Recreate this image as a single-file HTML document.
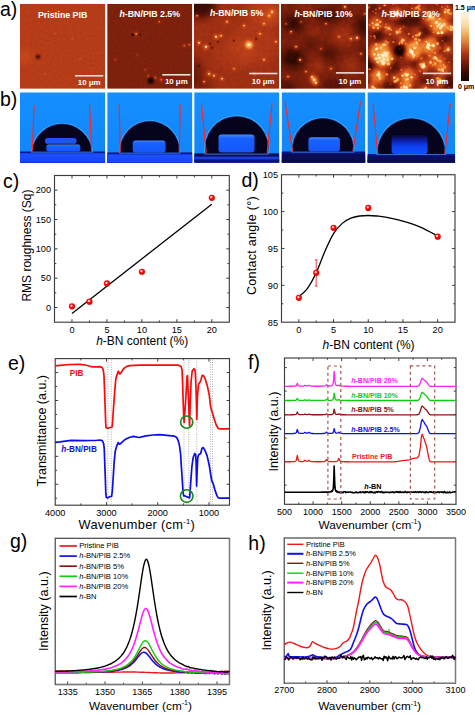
<!DOCTYPE html><html><head><meta charset="utf-8"><style>html,body{margin:0;padding:0;background:#fff;}svg{display:block;}text{font-family:"Liberation Sans", sans-serif;}</style></head><body>
<svg width="475" height="715" viewBox="0 0 475 715">
<rect width="475" height="715" fill="#fff"/>
<defs>
<filter id="afm1" x="0" y="0" width="100%" height="100%" color-interpolation-filters="sRGB">
<feTurbulence type="fractalNoise" baseFrequency="0.4" numOctaves="3" seed="11" result="n"/>
<feColorMatrix in="n" type="matrix" values="1 0 0 0 0 1 0 0 0 0 1 0 0 0 0 0 0 0 0 1" result="ng"/>
<feGaussianBlur in="SourceGraphic" stdDeviation="0.5" result="sg"/>
<feComposite in="sg" in2="ng" operator="arithmetic" k1="0" k2="1" k3="0.05" k4="-0.025" result="h"/>
<feComponentTransfer in="h"><feFuncR type="table" tableValues="0.059 0.089 0.120 0.151 0.188 0.227 0.267 0.309 0.353 0.397 0.442 0.487 0.532 0.577 0.617 0.658 0.698 0.740 0.781 0.823 0.855 0.884 0.914 0.933 0.945 0.957 0.967 0.972 0.976 0.981 0.985 0.988 0.992"/><feFuncG type="table" tableValues="0.012 0.018 0.024 0.030 0.039 0.049 0.059 0.071 0.084 0.098 0.112 0.128 0.144 0.161 0.183 0.205 0.227 0.257 0.286 0.316 0.367 0.423 0.479 0.539 0.600 0.661 0.716 0.762 0.807 0.850 0.884 0.919 0.953"/><feFuncB type="table" tableValues="0.012 0.013 0.014 0.015 0.018 0.020 0.023 0.026 0.031 0.036 0.042 0.048 0.054 0.061 0.072 0.083 0.094 0.099 0.104 0.109 0.126 0.147 0.168 0.208 0.261 0.313 0.375 0.451 0.527 0.607 0.699 0.790 0.882"/></feComponentTransfer>
</filter>
<filter id="afm2" x="0" y="0" width="100%" height="100%" color-interpolation-filters="sRGB">
<feTurbulence type="fractalNoise" baseFrequency="0.4" numOctaves="3" seed="22" result="n"/>
<feColorMatrix in="n" type="matrix" values="1 0 0 0 0 1 0 0 0 0 1 0 0 0 0 0 0 0 0 1" result="ng"/>
<feGaussianBlur in="SourceGraphic" stdDeviation="0.5" result="sg"/>
<feComposite in="sg" in2="ng" operator="arithmetic" k1="0" k2="1" k3="0.05" k4="-0.025" result="h"/>
<feComponentTransfer in="h"><feFuncR type="table" tableValues="0.059 0.089 0.120 0.151 0.188 0.227 0.267 0.309 0.353 0.397 0.442 0.487 0.532 0.577 0.617 0.658 0.698 0.740 0.781 0.823 0.855 0.884 0.914 0.933 0.945 0.957 0.967 0.972 0.976 0.981 0.985 0.988 0.992"/><feFuncG type="table" tableValues="0.012 0.018 0.024 0.030 0.039 0.049 0.059 0.071 0.084 0.098 0.112 0.128 0.144 0.161 0.183 0.205 0.227 0.257 0.286 0.316 0.367 0.423 0.479 0.539 0.600 0.661 0.716 0.762 0.807 0.850 0.884 0.919 0.953"/><feFuncB type="table" tableValues="0.012 0.013 0.014 0.015 0.018 0.020 0.023 0.026 0.031 0.036 0.042 0.048 0.054 0.061 0.072 0.083 0.094 0.099 0.104 0.109 0.126 0.147 0.168 0.208 0.261 0.313 0.375 0.451 0.527 0.607 0.699 0.790 0.882"/></feComponentTransfer>
</filter>
<filter id="afm3" x="0" y="0" width="100%" height="100%" color-interpolation-filters="sRGB">
<feTurbulence type="fractalNoise" baseFrequency="0.3" numOctaves="3" seed="33" result="n"/>
<feColorMatrix in="n" type="matrix" values="1 0 0 0 0 1 0 0 0 0 1 0 0 0 0 0 0 0 0 1" result="ng"/>
<feGaussianBlur in="SourceGraphic" stdDeviation="0.5" result="sg"/>
<feComposite in="sg" in2="ng" operator="arithmetic" k1="0" k2="1" k3="0.06" k4="-0.03" result="h"/>
<feComponentTransfer in="h"><feFuncR type="table" tableValues="0.059 0.089 0.120 0.151 0.188 0.227 0.267 0.309 0.353 0.397 0.442 0.487 0.532 0.577 0.617 0.658 0.698 0.740 0.781 0.823 0.855 0.884 0.914 0.933 0.945 0.957 0.967 0.972 0.976 0.981 0.985 0.988 0.992"/><feFuncG type="table" tableValues="0.012 0.018 0.024 0.030 0.039 0.049 0.059 0.071 0.084 0.098 0.112 0.128 0.144 0.161 0.183 0.205 0.227 0.257 0.286 0.316 0.367 0.423 0.479 0.539 0.600 0.661 0.716 0.762 0.807 0.850 0.884 0.919 0.953"/><feFuncB type="table" tableValues="0.012 0.013 0.014 0.015 0.018 0.020 0.023 0.026 0.031 0.036 0.042 0.048 0.054 0.061 0.072 0.083 0.094 0.099 0.104 0.109 0.126 0.147 0.168 0.208 0.261 0.313 0.375 0.451 0.527 0.607 0.699 0.790 0.882"/></feComponentTransfer>
</filter>
<filter id="afm4" x="0" y="0" width="100%" height="100%" color-interpolation-filters="sRGB">
<feTurbulence type="fractalNoise" baseFrequency="0.25" numOctaves="3" seed="44" result="n"/>
<feColorMatrix in="n" type="matrix" values="1 0 0 0 0 1 0 0 0 0 1 0 0 0 0 0 0 0 0 1" result="ng"/>
<feGaussianBlur in="SourceGraphic" stdDeviation="0.5" result="sg"/>
<feComposite in="sg" in2="ng" operator="arithmetic" k1="0" k2="1" k3="0.08" k4="-0.04" result="h"/>
<feComponentTransfer in="h"><feFuncR type="table" tableValues="0.059 0.089 0.120 0.151 0.188 0.227 0.267 0.309 0.353 0.397 0.442 0.487 0.532 0.577 0.617 0.658 0.698 0.740 0.781 0.823 0.855 0.884 0.914 0.933 0.945 0.957 0.967 0.972 0.976 0.981 0.985 0.988 0.992"/><feFuncG type="table" tableValues="0.012 0.018 0.024 0.030 0.039 0.049 0.059 0.071 0.084 0.098 0.112 0.128 0.144 0.161 0.183 0.205 0.227 0.257 0.286 0.316 0.367 0.423 0.479 0.539 0.600 0.661 0.716 0.762 0.807 0.850 0.884 0.919 0.953"/><feFuncB type="table" tableValues="0.012 0.013 0.014 0.015 0.018 0.020 0.023 0.026 0.031 0.036 0.042 0.048 0.054 0.061 0.072 0.083 0.094 0.099 0.104 0.109 0.126 0.147 0.168 0.208 0.261 0.313 0.375 0.451 0.527 0.607 0.699 0.790 0.882"/></feComponentTransfer>
</filter>
<filter id="afm5" x="0" y="0" width="100%" height="100%" color-interpolation-filters="sRGB">
<feTurbulence type="fractalNoise" baseFrequency="0.25" numOctaves="3" seed="55" result="n"/>
<feColorMatrix in="n" type="matrix" values="1 0 0 0 0 1 0 0 0 0 1 0 0 0 0 0 0 0 0 1" result="ng"/>
<feGaussianBlur in="SourceGraphic" stdDeviation="0.5" result="sg"/>
<feComposite in="sg" in2="ng" operator="arithmetic" k1="0" k2="1" k3="0.12" k4="-0.06" result="h"/>
<feComponentTransfer in="h"><feFuncR type="table" tableValues="0.059 0.089 0.120 0.151 0.188 0.227 0.267 0.309 0.353 0.397 0.442 0.487 0.532 0.577 0.617 0.658 0.698 0.740 0.781 0.823 0.855 0.884 0.914 0.933 0.945 0.957 0.967 0.972 0.976 0.981 0.985 0.988 0.992"/><feFuncG type="table" tableValues="0.012 0.018 0.024 0.030 0.039 0.049 0.059 0.071 0.084 0.098 0.112 0.128 0.144 0.161 0.183 0.205 0.227 0.257 0.286 0.316 0.367 0.423 0.479 0.539 0.600 0.661 0.716 0.762 0.807 0.850 0.884 0.919 0.953"/><feFuncB type="table" tableValues="0.012 0.013 0.014 0.015 0.018 0.020 0.023 0.026 0.031 0.036 0.042 0.048 0.054 0.061 0.072 0.083 0.094 0.099 0.104 0.109 0.126 0.147 0.168 0.208 0.261 0.313 0.375 0.451 0.527 0.607 0.699 0.790 0.882"/></feComponentTransfer>
</filter>
<filter id="bl1" x="-50%" y="-50%" width="200%" height="200%"><feGaussianBlur stdDeviation="1"/></filter>
<filter id="bl2" x="-50%" y="-50%" width="200%" height="200%"><feGaussianBlur stdDeviation="2"/></filter>
<filter id="bl4" x="-50%" y="-50%" width="200%" height="200%"><feGaussianBlur stdDeviation="4"/></filter>
<filter id="bl05" x="-100%" y="-100%" width="300%" height="300%"><feGaussianBlur stdDeviation="0.5"/></filter>
<filter id="bl07" x="-10%" y="-10%" width="120%" height="120%"><feGaussianBlur stdDeviation="0.7"/></filter>
<linearGradient id="cbar" x1="0" y1="0" x2="0" y2="1"><stop offset="0.00" stop-color="rgb(253,242,220)"/><stop offset="0.10" stop-color="rgb(252,235,200)"/><stop offset="0.20" stop-color="rgb(248,215,160)"/><stop offset="0.30" stop-color="rgb(240,182,105)"/><stop offset="0.40" stop-color="rgb(226,142,66)"/><stop offset="0.50" stop-color="rgb(202,96,40)"/><stop offset="0.60" stop-color="rgb(172,56,22)"/><stop offset="0.70" stop-color="rgb(132,35,12)"/><stop offset="0.80" stop-color="rgb(86,20,8)"/><stop offset="0.90" stop-color="rgb(46,10,5)"/><stop offset="1.00" stop-color="rgb(22,5,5)"/></linearGradient>
<linearGradient id="sky" x1="0" y1="0" x2="0" y2="1"><stop offset="0" stop-color="#1590ff"/><stop offset="1" stop-color="#1084f8"/></linearGradient>
<radialGradient id="ball" cx="0.42" cy="0.4" r="0.62"><stop offset="0" stop-color="#ffffff"/><stop offset="0.18" stop-color="#ffd0d0"/><stop offset="0.38" stop-color="#ff1010"/><stop offset="0.8" stop-color="#f00000"/><stop offset="1" stop-color="#d00000"/></radialGradient>
</defs>
<defs><clipPath id="ca0"><rect x="20" y="3.8" width="85.2" height="85"/></clipPath><clipPath id="ca1"><rect x="107.2" y="3.8" width="85.1" height="85"/></clipPath><clipPath id="ca2"><rect x="194" y="3.8" width="85.2" height="85"/></clipPath><clipPath id="ca3"><rect x="281" y="3.8" width="85" height="85"/></clipPath><clipPath id="ca4"><rect x="368" y="3.8" width="85" height="85"/></clipPath></defs>
<g clip-path="url(#ca0)"><g filter="url(#afm1)">
<rect x="20" y="3.8" width="85.2" height="85" fill="rgb(130,130,130)"/>
<ellipse cx="24" cy="56.8" rx="8" ry="5" fill="#fff" opacity="0.14" filter="url(#bl4)"/>
<ellipse cx="38" cy="56.8" rx="1.9" ry="1.9" fill="#000" opacity="0.9" filter="url(#bl1)"/>
<ellipse cx="55" cy="33.8" rx="0.7" ry="0.7" fill="#fff" opacity="0.35"/>
<ellipse cx="72" cy="38.8" rx="0.7" ry="0.7" fill="#fff" opacity="0.35"/>
<ellipse cx="45" cy="73.8" rx="0.7" ry="0.7" fill="#fff" opacity="0.35"/>
<ellipse cx="80" cy="58.8" rx="0.7" ry="0.7" fill="#fff" opacity="0.35"/>
</g></g>
<text x="62.6" y="17.9" font-size="8.8" font-weight="bold" fill="#fff" text-anchor="middle">Pristine PIB</text>
<rect x="75.1" y="75" width="28.2" height="1.6" fill="#e8e0dc"/>
<text x="89.2" y="85.3" font-size="7.9" font-weight="bold" fill="#fff" text-anchor="middle">10 μm</text>
<g clip-path="url(#ca1)"><g filter="url(#afm2)">
<rect x="107.2" y="3.8" width="85.1" height="85" fill="rgb(89,89,89)"/>
<ellipse cx="150.7" cy="80.8" rx="3" ry="3" fill="#000" opacity="0.95" filter="url(#bl1)"/>
<ellipse cx="132.7" cy="34.8" rx="1.4" ry="1.4" fill="#000" opacity="0.8" filter="url(#bl05)"/>
<ellipse cx="140.2" cy="34.8" rx="1" ry="1" fill="#000" opacity="0.6" filter="url(#bl05)"/>
<ellipse cx="136.2" cy="33.8" rx="2.34" ry="2.34" fill="#fff" opacity="0.2" filter="url(#bl1)"/>
<ellipse cx="136.2" cy="33.8" rx="0.9" ry="0.9" fill="#fff" opacity="0.55" filter="url(#bl05)"/>
<ellipse cx="159.2" cy="21.8" rx="1.82" ry="1.82" fill="#fff" opacity="0.2" filter="url(#bl1)"/>
<ellipse cx="159.2" cy="21.8" rx="0.7" ry="0.7" fill="#fff" opacity="0.55" filter="url(#bl05)"/>
<ellipse cx="184.2" cy="45.8" rx="1.82" ry="1.82" fill="#fff" opacity="0.2" filter="url(#bl1)"/>
<ellipse cx="184.2" cy="45.8" rx="0.7" ry="0.7" fill="#fff" opacity="0.55" filter="url(#bl05)"/>
<ellipse cx="189.2" cy="44.8" rx="1.82" ry="1.82" fill="#fff" opacity="0.2" filter="url(#bl1)"/>
<ellipse cx="189.2" cy="44.8" rx="0.7" ry="0.7" fill="#fff" opacity="0.55" filter="url(#bl05)"/>
<ellipse cx="148.2" cy="75.8" rx="1.56" ry="1.56" fill="#fff" opacity="0.2" filter="url(#bl1)"/>
<ellipse cx="148.2" cy="75.8" rx="0.6" ry="0.6" fill="#fff" opacity="0.55" filter="url(#bl05)"/>
<ellipse cx="155.2" cy="77.8" rx="1.82" ry="1.82" fill="#fff" opacity="0.2" filter="url(#bl1)"/>
<ellipse cx="155.2" cy="77.8" rx="0.7" ry="0.7" fill="#fff" opacity="0.55" filter="url(#bl05)"/>
<ellipse cx="161.2" cy="79.8" rx="2.08" ry="2.08" fill="#fff" opacity="0.2" filter="url(#bl1)"/>
<ellipse cx="161.2" cy="79.8" rx="0.8" ry="0.8" fill="#fff" opacity="0.55" filter="url(#bl05)"/>
<ellipse cx="145.2" cy="69.8" rx="1.3" ry="1.3" fill="#fff" opacity="0.2" filter="url(#bl1)"/>
<ellipse cx="145.2" cy="69.8" rx="0.5" ry="0.5" fill="#fff" opacity="0.55" filter="url(#bl05)"/>
<ellipse cx="115.2" cy="59.8" rx="1.3" ry="1.3" fill="#fff" opacity="0.2" filter="url(#bl1)"/>
<ellipse cx="115.2" cy="59.8" rx="0.5" ry="0.5" fill="#fff" opacity="0.55" filter="url(#bl05)"/>
<ellipse cx="137.2" cy="54.8" rx="1.17" ry="1.17" fill="#fff" opacity="0.2" filter="url(#bl1)"/>
<ellipse cx="137.2" cy="54.8" rx="0.45" ry="0.45" fill="#fff" opacity="0.55" filter="url(#bl05)"/>
</g></g>
<text x="149.75" y="17.1" font-size="8.8" font-weight="bold" fill="#fff" text-anchor="middle"><tspan font-style="italic">h</tspan>-BN/PIB 2.5%</text>
<rect x="162.2" y="74" width="28.2" height="1.6" fill="#e8e0dc"/>
<text x="176.3" y="84.2" font-size="7.9" font-weight="bold" fill="#fff" text-anchor="middle">10 μm</text>
<g clip-path="url(#ca2)"><g filter="url(#afm3)">
<rect x="194" y="3.8" width="85.2" height="85" fill="rgb(113,113,113)"/>
<ellipse cx="198" cy="5.8" rx="18" ry="12" fill="#000" opacity="0.65" filter="url(#bl4)"/>
<ellipse cx="264" cy="11.8" rx="18" ry="12" fill="#fff" opacity="0.12" filter="url(#bl4)"/>
<ellipse cx="234" cy="53.8" rx="20" ry="16" fill="#fff" opacity="0.06" filter="url(#bl4)"/>
<ellipse cx="194" cy="71.8" rx="8" ry="14" fill="#000" opacity="0.35" filter="url(#bl4)"/>
<ellipse cx="202" cy="85.8" rx="10" ry="6" fill="#000" opacity="0.25" filter="url(#bl4)"/>
<ellipse cx="254" cy="43.8" rx="24" ry="22" fill="#fff" opacity="0.08" filter="url(#bl4)"/>
<ellipse cx="272" cy="15.8" rx="12" ry="10" fill="#fff" opacity="0.1" filter="url(#bl4)"/>
<ellipse cx="249" cy="44.8" rx="5" ry="5" fill="#fff" opacity="0.25" filter="url(#bl2)"/>
<ellipse cx="249" cy="44.8" rx="3.64" ry="3.64" fill="#fff" opacity="0.5" filter="url(#bl1)"/>
<ellipse cx="249" cy="44.8" rx="1.4" ry="1.4" fill="#fff" opacity="0.95" filter="url(#bl05)"/>
<ellipse cx="206" cy="46.8" rx="2.86" ry="2.86" fill="#fff" opacity="0.35" filter="url(#bl1)"/>
<ellipse cx="206" cy="46.8" rx="1.1" ry="1.1" fill="#fff" opacity="0.85" filter="url(#bl05)"/>
<ellipse cx="199" cy="42.8" rx="2.34" ry="2.34" fill="#fff" opacity="0.35" filter="url(#bl1)"/>
<ellipse cx="199" cy="42.8" rx="0.9" ry="0.9" fill="#fff" opacity="0.85" filter="url(#bl05)"/>
<ellipse cx="216" cy="36.8" rx="2.6" ry="2.6" fill="#fff" opacity="0.35" filter="url(#bl1)"/>
<ellipse cx="216" cy="36.8" rx="1" ry="1" fill="#fff" opacity="0.85" filter="url(#bl05)"/>
<ellipse cx="221" cy="35.8" rx="2.08" ry="2.08" fill="#fff" opacity="0.35" filter="url(#bl1)"/>
<ellipse cx="221" cy="35.8" rx="0.8" ry="0.8" fill="#fff" opacity="0.85" filter="url(#bl05)"/>
<ellipse cx="227" cy="21.8" rx="2.08" ry="2.08" fill="#fff" opacity="0.35" filter="url(#bl1)"/>
<ellipse cx="227" cy="21.8" rx="0.8" ry="0.8" fill="#fff" opacity="0.85" filter="url(#bl05)"/>
<ellipse cx="272" cy="11.8" rx="2.34" ry="2.34" fill="#fff" opacity="0.35" filter="url(#bl1)"/>
<ellipse cx="272" cy="11.8" rx="0.9" ry="0.9" fill="#fff" opacity="0.85" filter="url(#bl05)"/>
<ellipse cx="269" cy="15.8" rx="2.08" ry="2.08" fill="#fff" opacity="0.35" filter="url(#bl1)"/>
<ellipse cx="269" cy="15.8" rx="0.8" ry="0.8" fill="#fff" opacity="0.85" filter="url(#bl05)"/>
<ellipse cx="264" cy="23.8" rx="1.82" ry="1.82" fill="#fff" opacity="0.35" filter="url(#bl1)"/>
<ellipse cx="264" cy="23.8" rx="0.7" ry="0.7" fill="#fff" opacity="0.85" filter="url(#bl05)"/>
<ellipse cx="244" cy="25.8" rx="1.82" ry="1.82" fill="#fff" opacity="0.35" filter="url(#bl1)"/>
<ellipse cx="244" cy="25.8" rx="0.7" ry="0.7" fill="#fff" opacity="0.85" filter="url(#bl05)"/>
<ellipse cx="209" cy="73.8" rx="2.34" ry="2.34" fill="#fff" opacity="0.35" filter="url(#bl1)"/>
<ellipse cx="209" cy="73.8" rx="0.9" ry="0.9" fill="#fff" opacity="0.85" filter="url(#bl05)"/>
<ellipse cx="214" cy="75.8" rx="2.08" ry="2.08" fill="#fff" opacity="0.35" filter="url(#bl1)"/>
<ellipse cx="214" cy="75.8" rx="0.8" ry="0.8" fill="#fff" opacity="0.85" filter="url(#bl05)"/>
<ellipse cx="222" cy="78.8" rx="2.08" ry="2.08" fill="#fff" opacity="0.35" filter="url(#bl1)"/>
<ellipse cx="222" cy="78.8" rx="0.8" ry="0.8" fill="#fff" opacity="0.85" filter="url(#bl05)"/>
<ellipse cx="204" cy="81.8" rx="1.82" ry="1.82" fill="#fff" opacity="0.35" filter="url(#bl1)"/>
<ellipse cx="204" cy="81.8" rx="0.7" ry="0.7" fill="#fff" opacity="0.85" filter="url(#bl05)"/>
<ellipse cx="264" cy="59.8" rx="1.82" ry="1.82" fill="#fff" opacity="0.35" filter="url(#bl1)"/>
<ellipse cx="264" cy="59.8" rx="0.7" ry="0.7" fill="#fff" opacity="0.85" filter="url(#bl05)"/>
<ellipse cx="260" cy="33.8" rx="1.82" ry="1.82" fill="#fff" opacity="0.35" filter="url(#bl1)"/>
<ellipse cx="260" cy="33.8" rx="0.7" ry="0.7" fill="#fff" opacity="0.85" filter="url(#bl05)"/>
<ellipse cx="234" cy="68.8" rx="1.56" ry="1.56" fill="#fff" opacity="0.35" filter="url(#bl1)"/>
<ellipse cx="234" cy="68.8" rx="0.6" ry="0.6" fill="#fff" opacity="0.85" filter="url(#bl05)"/>
<ellipse cx="276" cy="41.8" rx="1.82" ry="1.82" fill="#fff" opacity="0.35" filter="url(#bl1)"/>
<ellipse cx="276" cy="41.8" rx="0.7" ry="0.7" fill="#fff" opacity="0.85" filter="url(#bl05)"/>
<ellipse cx="197" cy="15.8" rx="1.82" ry="1.82" fill="#fff" opacity="0.35" filter="url(#bl1)"/>
<ellipse cx="197" cy="15.8" rx="0.7" ry="0.7" fill="#fff" opacity="0.85" filter="url(#bl05)"/>
<ellipse cx="254" cy="73.8" rx="1.56" ry="1.56" fill="#fff" opacity="0.35" filter="url(#bl1)"/>
<ellipse cx="254" cy="73.8" rx="0.6" ry="0.6" fill="#fff" opacity="0.85" filter="url(#bl05)"/>
<ellipse cx="212" cy="47.8" rx="1.2" ry="1.2" fill="#000" opacity="0.35" filter="url(#bl05)"/>
<ellipse cx="210" cy="43.8" rx="1.2" ry="1.2" fill="#000" opacity="0.35" filter="url(#bl05)"/>
<ellipse cx="234" cy="40.8" rx="1.2" ry="1.2" fill="#000" opacity="0.35" filter="url(#bl05)"/>
<ellipse cx="199" cy="65.8" rx="1.2" ry="1.2" fill="#000" opacity="0.35" filter="url(#bl05)"/>
<ellipse cx="256" cy="38.8" rx="1.2" ry="1.2" fill="#000" opacity="0.35" filter="url(#bl05)"/>
<ellipse cx="218" cy="41.8" rx="1.2" ry="1.2" fill="#000" opacity="0.35" filter="url(#bl05)"/>
</g></g>
<text x="236.6" y="16.2" font-size="8.8" font-weight="bold" fill="#fff" text-anchor="middle"><tspan font-style="italic">h</tspan>-BN/PIB 5%</text>
<rect x="249.1" y="72.7" width="28.2" height="1.6" fill="#e8e0dc"/>
<text x="263.2" y="84.2" font-size="7.9" font-weight="bold" fill="#fff" text-anchor="middle">10 μm</text>
<g clip-path="url(#ca3)"><g filter="url(#afm4)">
<rect x="281" y="3.8" width="85" height="85" fill="rgb(86,86,86)"/>
<ellipse cx="293" cy="58.8" rx="11" ry="9" fill="#000" opacity="0.7" filter="url(#bl4)"/>
<ellipse cx="293" cy="23.8" rx="10" ry="8" fill="#000" opacity="0.6" filter="url(#bl4)"/>
<ellipse cx="329" cy="15.8" rx="12" ry="6" fill="#000" opacity="0.5" filter="url(#bl4)"/>
<ellipse cx="363" cy="25.8" rx="7" ry="10" fill="#000" opacity="0.55" filter="url(#bl4)"/>
<ellipse cx="329" cy="53.8" rx="8" ry="6" fill="#000" opacity="0.45" filter="url(#bl4)"/>
<ellipse cx="333" cy="85.8" rx="10" ry="5" fill="#000" opacity="0.4" filter="url(#bl4)"/>
<ellipse cx="286" cy="88.8" rx="10" ry="6" fill="#000" opacity="0.5" filter="url(#bl4)"/>
<ellipse cx="311" cy="43.8" rx="6" ry="5" fill="#000" opacity="0.35" filter="url(#bl4)"/>
<ellipse cx="366" cy="53.8" rx="5" ry="8" fill="#000" opacity="0.35" filter="url(#bl4)"/>
<ellipse cx="343" cy="35.8" rx="12" ry="10" fill="#fff" opacity="0.17" filter="url(#bl4)"/>
<ellipse cx="351" cy="65.8" rx="10" ry="9" fill="#fff" opacity="0.15" filter="url(#bl4)"/>
<ellipse cx="317" cy="65.8" rx="9" ry="8" fill="#fff" opacity="0.14" filter="url(#bl4)"/>
<ellipse cx="315" cy="31.8" rx="7" ry="6" fill="#fff" opacity="0.12" filter="url(#bl4)"/>
<ellipse cx="306" cy="7.8" rx="10" ry="4" fill="#fff" opacity="0.1" filter="url(#bl4)"/>
<ellipse cx="314" cy="79.8" rx="5" ry="5" fill="#fff" opacity="0.25" filter="url(#bl2)"/>
<ellipse cx="314" cy="79.8" rx="3.38" ry="3.38" fill="#fff" opacity="0.35" filter="url(#bl1)"/>
<ellipse cx="314" cy="79.8" rx="1.3" ry="1.3" fill="#fff" opacity="0.85" filter="url(#bl05)"/>
<ellipse cx="316" cy="82.8" rx="2.86" ry="2.86" fill="#fff" opacity="0.35" filter="url(#bl1)"/>
<ellipse cx="316" cy="82.8" rx="1.1" ry="1.1" fill="#fff" opacity="0.85" filter="url(#bl05)"/>
<ellipse cx="312" cy="76.8" rx="2.34" ry="2.34" fill="#fff" opacity="0.35" filter="url(#bl1)"/>
<ellipse cx="312" cy="76.8" rx="0.9" ry="0.9" fill="#fff" opacity="0.85" filter="url(#bl05)"/>
<ellipse cx="300" cy="59.8" rx="2.34" ry="2.34" fill="#fff" opacity="0.35" filter="url(#bl1)"/>
<ellipse cx="300" cy="59.8" rx="0.9" ry="0.9" fill="#fff" opacity="0.85" filter="url(#bl05)"/>
<ellipse cx="357" cy="37.8" rx="2.6" ry="2.6" fill="#fff" opacity="0.35" filter="url(#bl1)"/>
<ellipse cx="357" cy="37.8" rx="1" ry="1" fill="#fff" opacity="0.85" filter="url(#bl05)"/>
<ellipse cx="351" cy="38.8" rx="2.08" ry="2.08" fill="#fff" opacity="0.35" filter="url(#bl1)"/>
<ellipse cx="351" cy="38.8" rx="0.8" ry="0.8" fill="#fff" opacity="0.85" filter="url(#bl05)"/>
<ellipse cx="345" cy="6.8" rx="2.34" ry="2.34" fill="#fff" opacity="0.35" filter="url(#bl1)"/>
<ellipse cx="345" cy="6.8" rx="0.9" ry="0.9" fill="#fff" opacity="0.85" filter="url(#bl05)"/>
<ellipse cx="291" cy="31.8" rx="2.08" ry="2.08" fill="#fff" opacity="0.35" filter="url(#bl1)"/>
<ellipse cx="291" cy="31.8" rx="0.8" ry="0.8" fill="#fff" opacity="0.85" filter="url(#bl05)"/>
<ellipse cx="296" cy="46.8" rx="2.08" ry="2.08" fill="#fff" opacity="0.35" filter="url(#bl1)"/>
<ellipse cx="296" cy="46.8" rx="0.8" ry="0.8" fill="#fff" opacity="0.85" filter="url(#bl05)"/>
<ellipse cx="326" cy="23.8" rx="1.82" ry="1.82" fill="#fff" opacity="0.35" filter="url(#bl1)"/>
<ellipse cx="326" cy="23.8" rx="0.7" ry="0.7" fill="#fff" opacity="0.85" filter="url(#bl05)"/>
<ellipse cx="331" cy="68.8" rx="1.82" ry="1.82" fill="#fff" opacity="0.35" filter="url(#bl1)"/>
<ellipse cx="331" cy="68.8" rx="0.7" ry="0.7" fill="#fff" opacity="0.85" filter="url(#bl05)"/>
<ellipse cx="306" cy="71.8" rx="1.82" ry="1.82" fill="#fff" opacity="0.35" filter="url(#bl1)"/>
<ellipse cx="306" cy="71.8" rx="0.7" ry="0.7" fill="#fff" opacity="0.85" filter="url(#bl05)"/>
<ellipse cx="288" cy="76.8" rx="1.82" ry="1.82" fill="#fff" opacity="0.35" filter="url(#bl1)"/>
<ellipse cx="288" cy="76.8" rx="0.7" ry="0.7" fill="#fff" opacity="0.85" filter="url(#bl05)"/>
<ellipse cx="361" cy="53.8" rx="1.82" ry="1.82" fill="#fff" opacity="0.35" filter="url(#bl1)"/>
<ellipse cx="361" cy="53.8" rx="0.7" ry="0.7" fill="#fff" opacity="0.85" filter="url(#bl05)"/>
<ellipse cx="339" cy="36.8" rx="1.56" ry="1.56" fill="#fff" opacity="0.35" filter="url(#bl1)"/>
<ellipse cx="339" cy="36.8" rx="0.6" ry="0.6" fill="#fff" opacity="0.85" filter="url(#bl05)"/>
<ellipse cx="365" cy="13.8" rx="1.82" ry="1.82" fill="#fff" opacity="0.35" filter="url(#bl1)"/>
<ellipse cx="365" cy="13.8" rx="0.7" ry="0.7" fill="#fff" opacity="0.85" filter="url(#bl05)"/>
<ellipse cx="301" cy="21.8" rx="1.56" ry="1.56" fill="#fff" opacity="0.35" filter="url(#bl1)"/>
<ellipse cx="301" cy="21.8" rx="0.6" ry="0.6" fill="#fff" opacity="0.85" filter="url(#bl05)"/>
<ellipse cx="286" cy="23.8" rx="1.56" ry="1.56" fill="#fff" opacity="0.35" filter="url(#bl1)"/>
<ellipse cx="286" cy="23.8" rx="0.6" ry="0.6" fill="#fff" opacity="0.85" filter="url(#bl05)"/>
<ellipse cx="321" cy="48.8" rx="1.56" ry="1.56" fill="#fff" opacity="0.35" filter="url(#bl1)"/>
<ellipse cx="321" cy="48.8" rx="0.6" ry="0.6" fill="#fff" opacity="0.85" filter="url(#bl05)"/>
</g></g>
<text x="323.5" y="16.8" font-size="8.8" font-weight="bold" fill="#fff" text-anchor="middle"><tspan font-style="italic">h</tspan>-BN/PIB 10%</text>
<rect x="335.9" y="72.1" width="28.2" height="1.6" fill="#e8e0dc"/>
<text x="350" y="84.2" font-size="7.9" font-weight="bold" fill="#fff" text-anchor="middle">10 μm</text>
<g clip-path="url(#ca4)"><g filter="url(#afm5)">
<rect x="368" y="3.8" width="85" height="85" fill="rgb(99,99,99)"/>
<ellipse cx="400" cy="50.8" rx="5" ry="5" fill="#000" opacity="0.95" filter="url(#bl2)"/>
<ellipse cx="370" cy="63.8" rx="5" ry="8" fill="#000" opacity="0.6" filter="url(#bl2)"/>
<ellipse cx="408" cy="20.8" rx="14" ry="5" fill="#000" opacity="0.5" filter="url(#bl2)"/>
<ellipse cx="378" cy="35.8" rx="6" ry="6" fill="#000" opacity="0.45" filter="url(#bl2)"/>
<ellipse cx="423" cy="33.8" rx="7" ry="6" fill="#000" opacity="0.45" filter="url(#bl2)"/>
<ellipse cx="443" cy="39.8" rx="6" ry="6" fill="#000" opacity="0.4" filter="url(#bl2)"/>
<ellipse cx="393" cy="65.8" rx="6" ry="6" fill="#000" opacity="0.45" filter="url(#bl2)"/>
<ellipse cx="448" cy="83.8" rx="8" ry="8" fill="#000" opacity="0.45" filter="url(#bl2)"/>
<ellipse cx="428" cy="81.8" rx="7" ry="5" fill="#000" opacity="0.4" filter="url(#bl2)"/>
<ellipse cx="390" cy="85.8" rx="7" ry="4" fill="#000" opacity="0.4" filter="url(#bl2)"/>
<ellipse cx="416" cy="63.8" rx="5" ry="5" fill="#000" opacity="0.35" filter="url(#bl2)"/>
<ellipse cx="453" cy="8.8" rx="6" ry="6" fill="#000" opacity="0.35" filter="url(#bl2)"/>
<ellipse cx="373" cy="8.8" rx="5" ry="5" fill="#000" opacity="0.35" filter="url(#bl2)"/>
<ellipse cx="388" cy="43.8" rx="4" ry="4" fill="#000" opacity="0.3" filter="url(#bl2)"/>
<ellipse cx="436" cy="51.8" rx="4" ry="4" fill="#000" opacity="0.3" filter="url(#bl2)"/>
<ellipse cx="413" cy="91.8" rx="6" ry="3" fill="#000" opacity="0.3" filter="url(#bl2)"/>
<ellipse cx="440" cy="25.8" rx="9.6" ry="9.6" fill="#fff" opacity="0.55" filter="url(#bl2)"/>
<ellipse cx="430" cy="17.8" rx="6.4" ry="6.4" fill="#fff" opacity="0.44" filter="url(#bl2)"/>
<ellipse cx="376" cy="23.8" rx="6.4" ry="6.4" fill="#fff" opacity="0.44" filter="url(#bl2)"/>
<ellipse cx="388" cy="28.8" rx="4.8" ry="4.8" fill="#fff" opacity="0.33" filter="url(#bl2)"/>
<ellipse cx="380" cy="53.8" rx="11.2" ry="11.2" fill="#fff" opacity="0.55" filter="url(#bl2)"/>
<ellipse cx="386" cy="59.8" rx="8" ry="8" fill="#fff" opacity="0.5" filter="url(#bl2)"/>
<ellipse cx="413" cy="50.8" rx="9.6" ry="9.6" fill="#fff" opacity="0.55" filter="url(#bl2)"/>
<ellipse cx="430" cy="45.8" rx="9.6" ry="9.6" fill="#fff" opacity="0.5" filter="url(#bl2)"/>
<ellipse cx="436" cy="60.8" rx="8" ry="8" fill="#fff" opacity="0.39" filter="url(#bl2)"/>
<ellipse cx="403" cy="40.8" rx="4.8" ry="4.8" fill="#fff" opacity="0.33" filter="url(#bl2)"/>
<ellipse cx="378" cy="75.8" rx="8" ry="8" fill="#fff" opacity="0.47" filter="url(#bl2)"/>
<ellipse cx="408" cy="75.8" rx="8" ry="8" fill="#fff" opacity="0.47" filter="url(#bl2)"/>
<ellipse cx="423" cy="65.8" rx="6.4" ry="6.4" fill="#fff" opacity="0.39" filter="url(#bl2)"/>
<ellipse cx="443" cy="68.8" rx="6.4" ry="6.4" fill="#fff" opacity="0.39" filter="url(#bl2)"/>
<ellipse cx="406" cy="86.8" rx="6.4" ry="6.4" fill="#fff" opacity="0.5" filter="url(#bl2)"/>
<ellipse cx="396" cy="13.8" rx="6.4" ry="6.4" fill="#fff" opacity="0.39" filter="url(#bl2)"/>
<ellipse cx="418" cy="33.8" rx="4.8" ry="4.8" fill="#fff" opacity="0.33" filter="url(#bl2)"/>
<ellipse cx="448" cy="48.8" rx="4.8" ry="4.8" fill="#fff" opacity="0.33" filter="url(#bl2)"/>
<ellipse cx="386" cy="43.8" rx="4.8" ry="4.8" fill="#fff" opacity="0.28" filter="url(#bl2)"/>
<ellipse cx="426" cy="89.8" rx="6.4" ry="6.4" fill="#fff" opacity="0.33" filter="url(#bl2)"/>
<ellipse cx="452" cy="28.8" rx="4.8" ry="4.8" fill="#fff" opacity="0.33" filter="url(#bl2)"/>
<ellipse cx="398" cy="31.8" rx="4.8" ry="4.8" fill="#fff" opacity="0.28" filter="url(#bl2)"/>
<ellipse cx="448" cy="11.8" rx="6.4" ry="6.4" fill="#fff" opacity="0.39" filter="url(#bl2)"/>
<ellipse cx="418" cy="8.8" rx="4.8" ry="4.8" fill="#fff" opacity="0.28" filter="url(#bl2)"/>
<ellipse cx="440" cy="81.8" rx="6.4" ry="6.4" fill="#fff" opacity="0.33" filter="url(#bl2)"/>
<ellipse cx="373" cy="88.8" rx="6.4" ry="6.4" fill="#fff" opacity="0.33" filter="url(#bl2)"/>
<ellipse cx="396" cy="78.8" rx="4.8" ry="4.8" fill="#fff" opacity="0.33" filter="url(#bl2)"/>
<ellipse cx="416" cy="41.8" rx="4.8" ry="4.8" fill="#fff" opacity="0.33" filter="url(#bl2)"/>
<g filter="url(#bl07)">
<circle cx="436.46" cy="22.36" r="1.56" fill="#fff" opacity="0.83"/>
<circle cx="439.57" cy="19.03" r="1.02" fill="#fff" opacity="0.66"/>
<circle cx="444.07" cy="24.29" r="1.63" fill="#fff" opacity="0.54"/>
<circle cx="437.79" cy="26.24" r="1.38" fill="#fff" opacity="0.7"/>
<circle cx="442.09" cy="25.97" r="1.2" fill="#fff" opacity="0.82"/>
<circle cx="440.17" cy="24.04" r="1.56" fill="#fff" opacity="0.55"/>
<circle cx="438.84" cy="24.75" r="1" fill="#fff" opacity="0.8"/>
<circle cx="440.53" cy="27.82" r="1.69" fill="#fff" opacity="0.81"/>
<circle cx="438.13" cy="33.22" r="1.38" fill="#fff" opacity="0.74"/>
<circle cx="442" cy="32.65" r="1.48" fill="#fff" opacity="0.84"/>
<circle cx="431.32" cy="16.76" r="1.25" fill="#fff" opacity="0.45"/>
<circle cx="430.45" cy="18.38" r="1.21" fill="#fff" opacity="0.57"/>
<circle cx="433.01" cy="17.86" r="1.24" fill="#fff" opacity="0.49"/>
<circle cx="430.96" cy="15.72" r="1.22" fill="#fff" opacity="0.53"/>
<circle cx="429.81" cy="17.14" r="1.68" fill="#fff" opacity="0.41"/>
<circle cx="430" cy="13.94" r="1.01" fill="#fff" opacity="0.62"/>
<circle cx="428.25" cy="19.76" r="1.01" fill="#fff" opacity="0.41"/>
<circle cx="378.1" cy="28.32" r="1.14" fill="#fff" opacity="0.61"/>
<circle cx="380.31" cy="21.76" r="1.24" fill="#fff" opacity="0.5"/>
<circle cx="372.58" cy="23.27" r="1.08" fill="#fff" opacity="0.61"/>
<circle cx="377.16" cy="20.01" r="1.03" fill="#fff" opacity="0.66"/>
<circle cx="377.53" cy="24.79" r="1.43" fill="#fff" opacity="0.66"/>
<circle cx="373.57" cy="27.64" r="1.38" fill="#fff" opacity="0.49"/>
<circle cx="375.49" cy="24.94" r="1.05" fill="#fff" opacity="0.44"/>
<circle cx="386.11" cy="24.09" r="1.11" fill="#fff" opacity="0.31"/>
<circle cx="389.85" cy="28.65" r="1.28" fill="#fff" opacity="0.35"/>
<circle cx="385.67" cy="27.24" r="1.32" fill="#fff" opacity="0.39"/>
<circle cx="391.14" cy="29.95" r="1.02" fill="#fff" opacity="0.4"/>
<circle cx="388.42" cy="28.13" r="1.51" fill="#fff" opacity="0.5"/>
<circle cx="375.79" cy="49.3" r="1.07" fill="#fff" opacity="0.65"/>
<circle cx="384" cy="59.25" r="1.21" fill="#fff" opacity="0.66"/>
<circle cx="386.84" cy="53.77" r="1.68" fill="#fff" opacity="0.66"/>
<circle cx="374.36" cy="54.22" r="1.34" fill="#fff" opacity="0.6"/>
<circle cx="378.38" cy="54.92" r="1.26" fill="#fff" opacity="0.85"/>
<circle cx="384.76" cy="52.57" r="1.35" fill="#fff" opacity="0.62"/>
<circle cx="382.36" cy="55.28" r="1.55" fill="#fff" opacity="0.8"/>
<circle cx="376.04" cy="58.5" r="1.54" fill="#fff" opacity="0.74"/>
<circle cx="376.96" cy="48.73" r="1.25" fill="#fff" opacity="0.75"/>
<circle cx="379.22" cy="57.76" r="1.54" fill="#fff" opacity="0.74"/>
<circle cx="377.7" cy="61.93" r="1.45" fill="#fff" opacity="0.7"/>
<circle cx="384.39" cy="54.12" r="1.18" fill="#fff" opacity="0.74"/>
<circle cx="381.52" cy="60.86" r="1.45" fill="#fff" opacity="0.7"/>
<circle cx="383.93" cy="62.73" r="1.52" fill="#fff" opacity="0.71"/>
<circle cx="383.17" cy="63.69" r="1.61" fill="#fff" opacity="0.67"/>
<circle cx="392.19" cy="58.86" r="1.36" fill="#fff" opacity="0.62"/>
<circle cx="388.39" cy="63.91" r="1.66" fill="#fff" opacity="0.6"/>
<circle cx="384.57" cy="56.08" r="1.51" fill="#fff" opacity="0.5"/>
<circle cx="386.63" cy="56.56" r="1.47" fill="#fff" opacity="0.58"/>
<circle cx="382.92" cy="56.77" r="1.45" fill="#fff" opacity="0.68"/>
<circle cx="387.45" cy="60.05" r="1.31" fill="#fff" opacity="0.65"/>
<circle cx="413.88" cy="55.28" r="1.44" fill="#fff" opacity="0.51"/>
<circle cx="410.89" cy="51.18" r="1.04" fill="#fff" opacity="0.55"/>
<circle cx="412.22" cy="52.53" r="1.14" fill="#fff" opacity="0.51"/>
<circle cx="410.13" cy="51.43" r="1.43" fill="#fff" opacity="0.71"/>
<circle cx="413.49" cy="57.26" r="1" fill="#fff" opacity="0.64"/>
<circle cx="412.45" cy="53.83" r="1.08" fill="#fff" opacity="0.79"/>
<circle cx="412.43" cy="51.38" r="1.43" fill="#fff" opacity="0.53"/>
<circle cx="410.38" cy="50.03" r="1.41" fill="#fff" opacity="0.84"/>
<circle cx="414.31" cy="47.96" r="1.57" fill="#fff" opacity="0.72"/>
<circle cx="411.87" cy="52.01" r="1.42" fill="#fff" opacity="0.7"/>
<circle cx="437.59" cy="43.71" r="1.43" fill="#fff" opacity="0.56"/>
<circle cx="430.1" cy="45.72" r="1.08" fill="#fff" opacity="0.63"/>
<circle cx="428.76" cy="44.71" r="1.44" fill="#fff" opacity="0.73"/>
<circle cx="427.73" cy="48.04" r="1.16" fill="#fff" opacity="0.54"/>
<circle cx="432.89" cy="45.3" r="1.67" fill="#fff" opacity="0.74"/>
<circle cx="428.08" cy="44.48" r="1.69" fill="#fff" opacity="0.61"/>
<circle cx="427.73" cy="47.13" r="1.69" fill="#fff" opacity="0.6"/>
<circle cx="429.23" cy="49.13" r="1.09" fill="#fff" opacity="0.65"/>
<circle cx="427.66" cy="46.67" r="1.55" fill="#fff" opacity="0.71"/>
<circle cx="433.69" cy="46.11" r="1.19" fill="#fff" opacity="0.74"/>
<circle cx="436.37" cy="58.96" r="1.19" fill="#fff" opacity="0.39"/>
<circle cx="438.08" cy="60.65" r="1.43" fill="#fff" opacity="0.47"/>
<circle cx="433.91" cy="58.11" r="1.52" fill="#fff" opacity="0.38"/>
<circle cx="436.14" cy="58.69" r="1.37" fill="#fff" opacity="0.43"/>
<circle cx="435.11" cy="63.74" r="1.33" fill="#fff" opacity="0.44"/>
<circle cx="435.9" cy="57.46" r="1.03" fill="#fff" opacity="0.41"/>
<circle cx="430.64" cy="62.33" r="1.62" fill="#fff" opacity="0.48"/>
<circle cx="440.32" cy="61.2" r="1.3" fill="#fff" opacity="0.49"/>
<circle cx="435.08" cy="57.39" r="1.34" fill="#fff" opacity="0.57"/>
<circle cx="401.87" cy="41.79" r="1.6" fill="#fff" opacity="0.34"/>
<circle cx="402.19" cy="43.5" r="1.05" fill="#fff" opacity="0.48"/>
<circle cx="402.46" cy="39.3" r="1.2" fill="#fff" opacity="0.46"/>
<circle cx="403.7" cy="40.36" r="1.33" fill="#fff" opacity="0.42"/>
<circle cx="401.66" cy="40.82" r="1.11" fill="#fff" opacity="0.42"/>
<circle cx="378.36" cy="74.93" r="1.16" fill="#fff" opacity="0.67"/>
<circle cx="378.96" cy="72.24" r="1.02" fill="#fff" opacity="0.64"/>
<circle cx="386.86" cy="74.61" r="1.49" fill="#fff" opacity="0.44"/>
<circle cx="378.96" cy="74.33" r="1.45" fill="#fff" opacity="0.71"/>
<circle cx="377.69" cy="74.49" r="1.2" fill="#fff" opacity="0.7"/>
<circle cx="380.02" cy="78.57" r="1.29" fill="#fff" opacity="0.47"/>
<circle cx="377.46" cy="75.28" r="1.08" fill="#fff" opacity="0.54"/>
<circle cx="378.77" cy="76.18" r="1.4" fill="#fff" opacity="0.65"/>
<circle cx="378.97" cy="74.87" r="1.3" fill="#fff" opacity="0.52"/>
<circle cx="405.66" cy="74.09" r="1.66" fill="#fff" opacity="0.54"/>
<circle cx="411.63" cy="77.13" r="1.11" fill="#fff" opacity="0.61"/>
<circle cx="402.51" cy="75.6" r="1.39" fill="#fff" opacity="0.61"/>
<circle cx="407.74" cy="78.96" r="1.18" fill="#fff" opacity="0.65"/>
<circle cx="406.67" cy="75.66" r="1.16" fill="#fff" opacity="0.54"/>
<circle cx="407.87" cy="74.23" r="1.5" fill="#fff" opacity="0.62"/>
<circle cx="411.19" cy="77.69" r="1.06" fill="#fff" opacity="0.46"/>
<circle cx="406.47" cy="74.77" r="1.61" fill="#fff" opacity="0.57"/>
<circle cx="406.02" cy="79.8" r="1.02" fill="#fff" opacity="0.64"/>
<circle cx="424.08" cy="66.18" r="1.67" fill="#fff" opacity="0.52"/>
<circle cx="423.17" cy="66.78" r="1.68" fill="#fff" opacity="0.51"/>
<circle cx="423.47" cy="64.81" r="1.44" fill="#fff" opacity="0.44"/>
<circle cx="423.17" cy="67.59" r="1.43" fill="#fff" opacity="0.44"/>
<circle cx="422.18" cy="66.51" r="1.58" fill="#fff" opacity="0.51"/>
<circle cx="423.72" cy="63.79" r="1.6" fill="#fff" opacity="0.48"/>
<circle cx="420.82" cy="64.37" r="1.52" fill="#fff" opacity="0.45"/>
<circle cx="443.43" cy="69.1" r="1.14" fill="#fff" opacity="0.36"/>
<circle cx="444.76" cy="67.33" r="1.53" fill="#fff" opacity="0.35"/>
<circle cx="438.87" cy="69.58" r="1.43" fill="#fff" opacity="0.46"/>
<circle cx="442.1" cy="69" r="1.11" fill="#fff" opacity="0.39"/>
<circle cx="441.61" cy="70.2" r="1.62" fill="#fff" opacity="0.39"/>
<circle cx="442.96" cy="70.41" r="1.11" fill="#fff" opacity="0.42"/>
<circle cx="443.21" cy="71.08" r="1.02" fill="#fff" opacity="0.58"/>
<circle cx="402.79" cy="90.26" r="1.48" fill="#fff" opacity="0.66"/>
<circle cx="401.25" cy="87.65" r="1.08" fill="#fff" opacity="0.66"/>
<circle cx="405.23" cy="89.7" r="1.51" fill="#fff" opacity="0.5"/>
<circle cx="406.14" cy="87.23" r="1.16" fill="#fff" opacity="0.47"/>
<circle cx="401.62" cy="89.94" r="1.25" fill="#fff" opacity="0.55"/>
<circle cx="404.4" cy="87.13" r="1.51" fill="#fff" opacity="0.68"/>
<circle cx="406.77" cy="88.07" r="1.47" fill="#fff" opacity="0.75"/>
<circle cx="394.71" cy="12.12" r="1.68" fill="#fff" opacity="0.35"/>
<circle cx="399.23" cy="15.1" r="1.29" fill="#fff" opacity="0.36"/>
<circle cx="390.23" cy="11.99" r="1.36" fill="#fff" opacity="0.44"/>
<circle cx="396.64" cy="14.23" r="1.63" fill="#fff" opacity="0.47"/>
<circle cx="396.61" cy="13.54" r="1.17" fill="#fff" opacity="0.36"/>
<circle cx="395.44" cy="14.22" r="1.18" fill="#fff" opacity="0.45"/>
<circle cx="395.78" cy="14.41" r="1.03" fill="#fff" opacity="0.59"/>
<circle cx="418.77" cy="35.42" r="1.28" fill="#fff" opacity="0.41"/>
<circle cx="419.12" cy="34.46" r="1.08" fill="#fff" opacity="0.41"/>
<circle cx="419.78" cy="32.84" r="1.6" fill="#fff" opacity="0.35"/>
<circle cx="419.86" cy="34" r="1.34" fill="#fff" opacity="0.42"/>
<circle cx="416.5" cy="35.27" r="1.51" fill="#fff" opacity="0.49"/>
<circle cx="447.42" cy="50.33" r="1.58" fill="#fff" opacity="0.35"/>
<circle cx="448.97" cy="49.66" r="1.06" fill="#fff" opacity="0.46"/>
<circle cx="448.55" cy="47.62" r="1.09" fill="#fff" opacity="0.32"/>
<circle cx="448.02" cy="49.43" r="1.3" fill="#fff" opacity="0.42"/>
<circle cx="448.02" cy="49.33" r="1.49" fill="#fff" opacity="0.31"/>
<circle cx="386.38" cy="44.97" r="1.26" fill="#fff" opacity="0.27"/>
<circle cx="384.86" cy="44.42" r="1.53" fill="#fff" opacity="0.35"/>
<circle cx="387.74" cy="42.47" r="1.53" fill="#fff" opacity="0.35"/>
<circle cx="383.42" cy="44.78" r="1.46" fill="#fff" opacity="0.42"/>
<circle cx="385.68" cy="41.49" r="1.19" fill="#fff" opacity="0.39"/>
<circle cx="425.22" cy="90.51" r="1.05" fill="#fff" opacity="0.34"/>
<circle cx="425.76" cy="92.79" r="1.2" fill="#fff" opacity="0.31"/>
<circle cx="426.22" cy="87.26" r="1.02" fill="#fff" opacity="0.31"/>
<circle cx="427.29" cy="91.17" r="1.6" fill="#fff" opacity="0.5"/>
<circle cx="424.89" cy="88.86" r="1.3" fill="#fff" opacity="0.38"/>
<circle cx="425.85" cy="90.08" r="1.41" fill="#fff" opacity="0.47"/>
<circle cx="425.87" cy="88.91" r="1.37" fill="#fff" opacity="0.34"/>
<circle cx="451.59" cy="27.22" r="1.66" fill="#fff" opacity="0.47"/>
<circle cx="452.97" cy="29.69" r="1.64" fill="#fff" opacity="0.4"/>
<circle cx="450.52" cy="29.45" r="1.54" fill="#fff" opacity="0.5"/>
<circle cx="448.12" cy="27.99" r="1.42" fill="#fff" opacity="0.32"/>
<circle cx="452.61" cy="27.36" r="1.04" fill="#fff" opacity="0.51"/>
<circle cx="399.93" cy="32.2" r="1.34" fill="#fff" opacity="0.4"/>
<circle cx="397.18" cy="32.45" r="1.19" fill="#fff" opacity="0.29"/>
<circle cx="396.7" cy="31.26" r="1.53" fill="#fff" opacity="0.29"/>
<circle cx="397.32" cy="32.71" r="1.69" fill="#fff" opacity="0.4"/>
<circle cx="399.22" cy="30.11" r="1.28" fill="#fff" opacity="0.28"/>
<circle cx="449.14" cy="9.78" r="1.03" fill="#fff" opacity="0.39"/>
<circle cx="450.59" cy="13.65" r="1.63" fill="#fff" opacity="0.4"/>
<circle cx="448.52" cy="10.11" r="1.48" fill="#fff" opacity="0.56"/>
<circle cx="445.43" cy="9.29" r="1.26" fill="#fff" opacity="0.35"/>
<circle cx="445.35" cy="11.6" r="1.13" fill="#fff" opacity="0.45"/>
<circle cx="447.81" cy="12.23" r="1.22" fill="#fff" opacity="0.44"/>
<circle cx="444.92" cy="12.27" r="1.28" fill="#fff" opacity="0.59"/>
<circle cx="419.36" cy="5.68" r="1.48" fill="#fff" opacity="0.37"/>
<circle cx="415.39" cy="8.19" r="1.25" fill="#fff" opacity="0.35"/>
<circle cx="417.22" cy="7.15" r="1.2" fill="#fff" opacity="0.26"/>
<circle cx="419.2" cy="9.53" r="1.41" fill="#fff" opacity="0.38"/>
<circle cx="417.72" cy="7.55" r="1.65" fill="#fff" opacity="0.3"/>
<circle cx="439.84" cy="81.04" r="1.53" fill="#fff" opacity="0.44"/>
<circle cx="444.11" cy="80.66" r="1.48" fill="#fff" opacity="0.48"/>
<circle cx="439.8" cy="79.06" r="1.15" fill="#fff" opacity="0.41"/>
<circle cx="441.17" cy="80.9" r="1.68" fill="#fff" opacity="0.41"/>
<circle cx="439.88" cy="81.9" r="1.27" fill="#fff" opacity="0.34"/>
<circle cx="437.55" cy="78.28" r="1.64" fill="#fff" opacity="0.43"/>
<circle cx="439.27" cy="82.43" r="1.48" fill="#fff" opacity="0.42"/>
<circle cx="372.58" cy="86.91" r="1.62" fill="#fff" opacity="0.34"/>
<circle cx="372.46" cy="90.28" r="1.44" fill="#fff" opacity="0.49"/>
<circle cx="374.4" cy="91.26" r="1.54" fill="#fff" opacity="0.35"/>
<circle cx="375.39" cy="89.79" r="1.58" fill="#fff" opacity="0.48"/>
<circle cx="372.71" cy="86.74" r="1.3" fill="#fff" opacity="0.41"/>
<circle cx="374.4" cy="87.84" r="1.2" fill="#fff" opacity="0.43"/>
<circle cx="374.26" cy="88.53" r="1.02" fill="#fff" opacity="0.32"/>
<circle cx="394.12" cy="78.02" r="1.13" fill="#fff" opacity="0.34"/>
<circle cx="394.21" cy="77.59" r="1.48" fill="#fff" opacity="0.45"/>
<circle cx="397.6" cy="79.45" r="1.58" fill="#fff" opacity="0.5"/>
<circle cx="394.78" cy="81.46" r="1.45" fill="#fff" opacity="0.49"/>
<circle cx="396.3" cy="81.1" r="1.59" fill="#fff" opacity="0.4"/>
<circle cx="416.79" cy="42.38" r="1.11" fill="#fff" opacity="0.32"/>
<circle cx="417.2" cy="43.49" r="1.07" fill="#fff" opacity="0.46"/>
<circle cx="415.76" cy="39.05" r="1.56" fill="#fff" opacity="0.45"/>
<circle cx="419.34" cy="40.07" r="1.44" fill="#fff" opacity="0.5"/>
<circle cx="416.56" cy="42.22" r="1.05" fill="#fff" opacity="0.34"/>
<circle cx="399.83" cy="42.79" r="1.14" fill="#fff" opacity="0.49"/>
<circle cx="375.12" cy="38.08" r="1.07" fill="#fff" opacity="0.39"/>
<circle cx="377.99" cy="54.55" r="0.99" fill="#fff" opacity="0.47"/>
<circle cx="410.12" cy="85.63" r="1.27" fill="#fff" opacity="0.32"/>
<circle cx="432.58" cy="65.11" r="0.95" fill="#fff" opacity="0.33"/>
<circle cx="408.72" cy="33.9" r="1.17" fill="#fff" opacity="0.53"/>
<circle cx="400.48" cy="28.5" r="1.05" fill="#fff" opacity="0.47"/>
<circle cx="435.07" cy="52.73" r="0.95" fill="#fff" opacity="0.38"/>
<circle cx="440.08" cy="47.94" r="0.83" fill="#fff" opacity="0.41"/>
<circle cx="388.22" cy="60.43" r="0.84" fill="#fff" opacity="0.37"/>
<circle cx="376.16" cy="44.39" r="1.29" fill="#fff" opacity="0.44"/>
<circle cx="400.83" cy="83.18" r="0.85" fill="#fff" opacity="0.39"/>
<circle cx="436.92" cy="4.24" r="1.18" fill="#fff" opacity="0.39"/>
<circle cx="369.39" cy="25.12" r="1.03" fill="#fff" opacity="0.4"/>
<circle cx="411.93" cy="8.32" r="0.91" fill="#fff" opacity="0.54"/>
<circle cx="405.62" cy="43.91" r="0.84" fill="#fff" opacity="0.37"/>
<circle cx="449.15" cy="62.2" r="1.05" fill="#fff" opacity="0.31"/>
<circle cx="401.38" cy="69.97" r="1.02" fill="#fff" opacity="0.45"/>
<circle cx="444.7" cy="58.64" r="1.12" fill="#fff" opacity="0.31"/>
<circle cx="370.02" cy="69.21" r="1.01" fill="#fff" opacity="0.52"/>
<circle cx="438.18" cy="81.61" r="0.99" fill="#fff" opacity="0.55"/>
<circle cx="432.28" cy="79.6" r="0.87" fill="#fff" opacity="0.5"/>
<circle cx="403.88" cy="86.43" r="1.3" fill="#fff" opacity="0.35"/>
<circle cx="403.82" cy="26.83" r="1.03" fill="#fff" opacity="0.37"/>
<circle cx="424.65" cy="14.28" r="0.88" fill="#fff" opacity="0.41"/>
<circle cx="374.28" cy="36.2" r="1.25" fill="#fff" opacity="0.52"/>
<circle cx="384.71" cy="5.37" r="1.21" fill="#fff" opacity="0.54"/>
<circle cx="418.91" cy="15.39" r="0.92" fill="#fff" opacity="0.53"/>
<circle cx="447.69" cy="6.44" r="0.89" fill="#fff" opacity="0.41"/>
<circle cx="390.67" cy="67.88" r="0.99" fill="#fff" opacity="0.49"/>
<circle cx="380.92" cy="47.86" r="1.29" fill="#fff" opacity="0.48"/>
<circle cx="375.66" cy="13.23" r="1.12" fill="#fff" opacity="0.39"/>
<circle cx="399.34" cy="44.4" r="1.09" fill="#fff" opacity="0.54"/>
<circle cx="388.48" cy="52.14" r="0.93" fill="#fff" opacity="0.44"/>
<circle cx="430.17" cy="15.16" r="1.04" fill="#fff" opacity="0.48"/>
<circle cx="368.69" cy="69.35" r="1.01" fill="#fff" opacity="0.43"/>
<circle cx="419.89" cy="71.2" r="0.83" fill="#fff" opacity="0.43"/>
<circle cx="371.25" cy="36.57" r="0.97" fill="#fff" opacity="0.31"/>
<circle cx="393.31" cy="42.05" r="1.13" fill="#fff" opacity="0.53"/>
<circle cx="399.49" cy="48.86" r="1.16" fill="#fff" opacity="0.53"/>
<circle cx="448.72" cy="87.78" r="0.95" fill="#fff" opacity="0.34"/>
<circle cx="447.21" cy="10.38" r="1.02" fill="#fff" opacity="0.48"/>
<circle cx="412.94" cy="36.84" r="1.26" fill="#fff" opacity="0.37"/>
<circle cx="414.9" cy="74.32" r="0.87" fill="#fff" opacity="0.39"/>
<circle cx="410.01" cy="51.9" r="0.9" fill="#fff" opacity="0.41"/>
<circle cx="373.09" cy="11.27" r="0.97" fill="#fff" opacity="0.34"/>
<circle cx="450.24" cy="26.18" r="0.94" fill="#fff" opacity="0.5"/>
<circle cx="431" cy="26.08" r="1.21" fill="#fff" opacity="0.46"/>
<circle cx="401.03" cy="57.25" r="0.92" fill="#fff" opacity="0.37"/>
<circle cx="442.5" cy="41.08" r="1.25" fill="#fff" opacity="0.34"/>
<circle cx="379.67" cy="8.22" r="1.17" fill="#fff" opacity="0.44"/>
<circle cx="368.82" cy="7.48" r="1.21" fill="#fff" opacity="0.42"/>
<circle cx="442.06" cy="7.18" r="1.09" fill="#fff" opacity="0.33"/>
<circle cx="429.3" cy="55.76" r="1.11" fill="#fff" opacity="0.36"/>
<circle cx="448.67" cy="13.24" r="0.83" fill="#fff" opacity="0.47"/>
<circle cx="375.89" cy="9.48" r="1.03" fill="#fff" opacity="0.46"/>
<circle cx="443.83" cy="65.07" r="0.83" fill="#fff" opacity="0.46"/>
<circle cx="439.71" cy="14.04" r="1.18" fill="#fff" opacity="0.36"/>
<circle cx="393.38" cy="3.93" r="1.18" fill="#fff" opacity="0.43"/>
<circle cx="444.67" cy="43.37" r="0.88" fill="#fff" opacity="0.35"/>
<circle cx="390.39" cy="84.28" r="0.9" fill="#fff" opacity="0.32"/>
<circle cx="397.98" cy="10.52" r="1.01" fill="#fff" opacity="0.46"/>
<circle cx="423.3" cy="18.66" r="0.87" fill="#fff" opacity="0.42"/>
<circle cx="426.41" cy="41.81" r="1.09" fill="#fff" opacity="0.53"/>
<circle cx="380.33" cy="26.57" r="1.05" fill="#fff" opacity="0.43"/>
<circle cx="444.52" cy="51" r="1.13" fill="#fff" opacity="0.4"/>
<circle cx="434.66" cy="74.85" r="0.95" fill="#fff" opacity="0.33"/>
<circle cx="390.03" cy="34.19" r="1.24" fill="#fff" opacity="0.37"/>
<circle cx="421.5" cy="58.25" r="1.28" fill="#fff" opacity="0.33"/>
<circle cx="433.44" cy="32.39" r="0.85" fill="#fff" opacity="0.46"/>
</g>
<ellipse cx="400" cy="50.8" rx="4.5" ry="4.5" fill="#000" opacity="0.9" filter="url(#bl2)"/>
</g></g>
<text x="410.5" y="16.5" font-size="8.8" font-weight="bold" fill="#fff" text-anchor="middle"><tspan font-style="italic">h</tspan>-BN/PIB 20%</text>
<rect x="422.9" y="72.6" width="28.2" height="1.6" fill="#e8e0dc"/>
<text x="437" y="84.2" font-size="7.9" font-weight="bold" fill="#fff" text-anchor="middle">10 μm</text>
<rect x="461" y="12.2" width="8" height="68.8" fill="url(#cbar)"/>
<text x="455" y="9.6" font-size="7" font-weight="bold" fill="#000">1.5 μm</text>
<text x="458" y="88.7" font-size="7" font-weight="bold" fill="#000">0 μm</text>
<text x="0" y="15.7" font-size="19.5" fill="#000">a)</text>
<defs><linearGradient id="refl5" x1="0" y1="0" x2="0" y2="1"><stop offset="0" stop-color="#06041e"/><stop offset="0.3" stop-color="#0a1ca0"/><stop offset="0.6" stop-color="#0a40f0"/><stop offset="1" stop-color="#0c50ff"/></linearGradient><linearGradient id="rg" x1="0" y1="0" x2="0" y2="1"><stop offset="0" stop-color="#4a8aff"/><stop offset="0.2" stop-color="#1a62ff"/><stop offset="1" stop-color="#1456fa"/></linearGradient>
<clipPath id="cb0"><rect x="20" y="92.3" width="85.2" height="70.5"/></clipPath><clipPath id="cb1"><rect x="107.2" y="92.3" width="85.2" height="70.5"/></clipPath><clipPath id="cb2"><rect x="194.2" y="92.3" width="85.2" height="70.5"/></clipPath><clipPath id="cb3"><rect x="281.6" y="92.3" width="83.8" height="70.5"/></clipPath><clipPath id="cb4"><rect x="367.4" y="92.3" width="87.8" height="70.5"/></clipPath></defs>
<g clip-path="url(#cb0)">
<rect x="20" y="92.3" width="85.2" height="70.5" fill="url(#sky)"/>
<rect x="20" y="151.5" width="85.2" height="11.3" fill="#0a1890"/>
<rect x="20" y="153.2" width="85.2" height="9.6" fill="#1a4eff"/>
<rect x="20" y="157.5" width="85.2" height="5.3" fill="#1848f8"/>
<rect x="20" y="161.9" width="85.2" height="0.9" fill="#0a2cc8"/>
<path d="M32.2,151.5 A29.95,29.95 0 0 1 91.9,151.5 Z" fill="none" stroke="#5cc0ff" stroke-width="2.2" opacity="0.7" filter="url(#bl05)"/>
<path d="M32.2,151.5 A29.95,29.95 0 0 1 91.9,151.5 Z" fill="#06031c" stroke="#0c1a70" stroke-width="0.6"/>
<rect x="45" y="137.9" width="31.6" height="5.9" rx="2.9" fill="#1a54f4" filter="url(#bl05)"/>
<rect x="46.4" y="144.5" width="33.9" height="6.9" rx="2" fill="url(#rg)" filter="url(#bl05)"/>
<line x1="34.1" y1="105.2" x2="32.2" y2="151.5" stroke="#ff2424" stroke-width="1.2"/>
<line x1="89.6" y1="104.7" x2="91.6" y2="151.5" stroke="#ff2424" stroke-width="1.2"/>
</g>
<g clip-path="url(#cb1)">
<rect x="107.2" y="92.3" width="85.2" height="70.5" fill="url(#sky)"/>
<rect x="107.2" y="152.4" width="85.2" height="10.4" fill="#0a1890"/>
<rect x="107.2" y="154.3" width="85.2" height="8.5" fill="#1a4eff"/>
<rect x="107.2" y="158.4" width="85.2" height="4.4" fill="#1848f8"/>
<rect x="107.2" y="162" width="85.2" height="0.8" fill="#0a2cc8"/>
<path d="M120.2,152.4 A29.59,29.59 0 1 1 179.3,152.4 Z" fill="none" stroke="#5cc0ff" stroke-width="2.2" opacity="0.7" filter="url(#bl05)"/>
<path d="M120.2,152.4 A29.59,29.59 0 1 1 179.3,152.4 Z" fill="#06031c" stroke="#0c1a70" stroke-width="0.6"/>
<rect x="132.7" y="140.4" width="32.9" height="12.3" rx="3" fill="url(#rg)" filter="url(#bl05)"/>
<line x1="119.2" y1="104.7" x2="120.2" y2="152.4" stroke="#ff2424" stroke-width="1.2"/>
<line x1="180.2" y1="104.7" x2="179.3" y2="152.4" stroke="#ff2424" stroke-width="1.2"/>
</g>
<g clip-path="url(#cb2)">
<rect x="194.2" y="92.3" width="85.2" height="70.5" fill="url(#sky)"/>
<rect x="194.2" y="153.4" width="85.2" height="9.4" fill="#0a0e58"/>
<rect x="194.2" y="156.6" width="85.2" height="6.2" fill="#1a3ce0"/>
<rect x="194.2" y="159.4" width="85.2" height="3.4" fill="#0c1678"/>
<path d="M205.6,153.4 A31.57,31.57 0 1 1 267.8,153.4 Z" fill="none" stroke="#5cc0ff" stroke-width="2.2" opacity="0.7" filter="url(#bl05)"/>
<path d="M205.6,153.4 A31.57,31.57 0 1 1 267.8,153.4 Z" fill="#06031c" stroke="#0c1a70" stroke-width="0.6"/>
<rect x="218.5" y="134.4" width="36" height="18.2" rx="3" fill="url(#rg)" filter="url(#bl05)"/>
<line x1="201.5" y1="103.5" x2="206.2" y2="153.4" stroke="#ff2424" stroke-width="1.2"/>
<line x1="272" y1="103.5" x2="267.2" y2="153.4" stroke="#ff2424" stroke-width="1.2"/>
</g>
<g clip-path="url(#cb3)">
<rect x="281.6" y="92.3" width="83.8" height="70.5" fill="url(#sky)"/>
<rect x="281.6" y="151.5" width="83.8" height="11.3" fill="#0c1480"/>
<rect x="281.6" y="154" width="83.8" height="8.8" fill="#0a0c58"/>
<rect x="281.6" y="159.5" width="83.8" height="3.3" fill="#080a50"/>
<path d="M292.6,151.5 A30.47,30.47 0 1 1 353.3,151.5 Z" fill="none" stroke="#5cc0ff" stroke-width="2.2" opacity="0.7" filter="url(#bl05)"/>
<path d="M292.6,151.5 A30.47,30.47 0 1 1 353.3,151.5 Z" fill="#06031c" stroke="#0c1a70" stroke-width="0.6"/>
<rect x="308.4" y="137.3" width="31.5" height="14.2" rx="3" fill="url(#rg)" filter="url(#bl05)"/>
<line x1="285" y1="101.6" x2="292.6" y2="151.5" stroke="#ff2424" stroke-width="1.2"/>
<line x1="360.5" y1="101.6" x2="352.9" y2="151.5" stroke="#ff2424" stroke-width="1.2"/>
</g>
<g clip-path="url(#cb4)">
<rect x="367.4" y="92.3" width="87.8" height="70.5" fill="url(#sky)"/>
<rect x="367.4" y="154" width="87.8" height="8.8" fill="#0c1488"/>
<rect x="367.4" y="156" width="87.8" height="6.8" fill="#0a0e60"/>
<rect x="367.4" y="160" width="87.8" height="2.8" fill="#080a52"/>
<path d="M377.7,154 A33.65,33.65 0 1 1 444.9,154 Z" fill="none" stroke="#5cc0ff" stroke-width="2.2" opacity="0.7" filter="url(#bl05)"/>
<path d="M377.7,154 A33.65,33.65 0 1 1 444.9,154 Z" fill="#06031c" stroke="#0c1a70" stroke-width="0.6"/>
<rect x="391.6" y="134.3" width="36" height="19.7" rx="3" fill="url(#refl5)" filter="url(#bl05)"/>
<line x1="373.1" y1="104.2" x2="377.7" y2="154" stroke="#ff2424" stroke-width="1.2"/>
<line x1="450.2" y1="103.7" x2="444.9" y2="154" stroke="#ff2424" stroke-width="1.2"/>
</g>
<text x="0" y="106.4" font-size="19.5" fill="#000">b)</text>
<rect x="54.5" y="175.5" width="174.8" height="146.7" fill="none" stroke="#3e3e3e" stroke-width="1.15"/>
<path d="M71.98,322.2v-3M71.98,175.5v3M106.94,322.2v-3M106.94,175.5v3M141.9,322.2v-3M141.9,175.5v3M176.86,322.2v-3M176.86,175.5v3M211.82,322.2v-3M211.82,175.5v3" stroke="#3e3e3e" stroke-width="1" fill="none"/>
<path d="M89.46,322.2v-1.8M89.46,175.5v1.8M124.42,322.2v-1.8M124.42,175.5v1.8M159.38,322.2v-1.8M159.38,175.5v1.8M194.34,322.2v-1.8M194.34,175.5v1.8" stroke="#3e3e3e" stroke-width="1" fill="none"/>
<path d="M54.5,307.53h3M229.3,307.53h-3M54.5,278.19h3M229.3,278.19h-3M54.5,248.85h3M229.3,248.85h-3M54.5,219.51h3M229.3,219.51h-3M54.5,190.17h3M229.3,190.17h-3" stroke="#3e3e3e" stroke-width="1" fill="none"/>
<path d="M54.5,292.86h1.8M229.3,292.86h-1.8M54.5,263.52h1.8M229.3,263.52h-1.8M54.5,234.18h1.8M229.3,234.18h-1.8M54.5,204.84h1.8M229.3,204.84h-1.8" stroke="#3e3e3e" stroke-width="1" fill="none"/>
<text x="51" y="310.83" font-size="9.2" text-anchor="end" font-weight="normal" fill="#000" >0</text>
<text x="51" y="281.49" font-size="9.2" text-anchor="end" font-weight="normal" fill="#000" >50</text>
<text x="51" y="252.15" font-size="9.2" text-anchor="end" font-weight="normal" fill="#000" >100</text>
<text x="51" y="222.81" font-size="9.2" text-anchor="end" font-weight="normal" fill="#000" >150</text>
<text x="51" y="193.47" font-size="9.2" text-anchor="end" font-weight="normal" fill="#000" >200</text>
<text x="71.98" y="333" font-size="9.2" text-anchor="middle" font-weight="normal" fill="#000" >0</text>
<text x="106.94" y="333" font-size="9.2" text-anchor="middle" font-weight="normal" fill="#000" >5</text>
<text x="141.9" y="333" font-size="9.2" text-anchor="middle" font-weight="normal" fill="#000" >10</text>
<text x="176.86" y="333" font-size="9.2" text-anchor="middle" font-weight="normal" fill="#000" >15</text>
<text x="211.82" y="333" font-size="9.2" text-anchor="middle" font-weight="normal" fill="#000" >20</text>
<line x1="71.98" y1="313.4" x2="211.82" y2="204.25" stroke="#000" stroke-width="1.3"/>
<circle cx="71.98" cy="306.36" r="3.1" fill="url(#ball)"/>
<circle cx="89.46" cy="301.66" r="3.1" fill="url(#ball)"/>
<circle cx="106.94" cy="283.47" r="3.1" fill="url(#ball)"/>
<circle cx="141.9" cy="271.74" r="3.1" fill="url(#ball)"/>
<circle cx="211.82" cy="197.8" r="3.1" fill="url(#ball)"/>
<text x="142.2" y="345.3" font-size="12" text-anchor="middle"><tspan font-style="italic">h</tspan>-BN content (%)</text>
<text transform="translate(30.9,245.6) rotate(-90)" x="0" y="0" font-size="12" text-anchor="middle">RMS roughness (Sq)</text>
<text x="3" y="188" font-size="19.5" fill="#000">c)</text>
<rect x="281.5" y="174.7" width="173.5" height="147.5" fill="none" stroke="#3e3e3e" stroke-width="1.15"/>
<path d="M298.85,322.2v-3M298.85,174.7v3M333.55,322.2v-3M333.55,174.7v3M368.25,322.2v-3M368.25,174.7v3M402.95,322.2v-3M402.95,174.7v3M437.65,322.2v-3M437.65,174.7v3" stroke="#3e3e3e" stroke-width="1" fill="none"/>
<path d="M316.2,322.2v-1.8M316.2,174.7v1.8M350.9,322.2v-1.8M350.9,174.7v1.8M385.6,322.2v-1.8M385.6,174.7v1.8M420.3,322.2v-1.8M420.3,174.7v1.8" stroke="#3e3e3e" stroke-width="1" fill="none"/>
<path d="M281.5,285.32h3M455,285.32h-3M281.5,248.45h3M455,248.45h-3M281.5,211.57h3M455,211.57h-3" stroke="#3e3e3e" stroke-width="1" fill="none"/>
<path d="M281.5,303.76h1.8M455,303.76h-1.8M281.5,266.89h1.8M455,266.89h-1.8M281.5,230.01h1.8M455,230.01h-1.8M281.5,193.14h1.8M455,193.14h-1.8" stroke="#3e3e3e" stroke-width="1" fill="none"/>
<text x="278" y="325.5" font-size="9.2" text-anchor="end" font-weight="normal" fill="#000" >85</text>
<text x="278" y="288.62" font-size="9.2" text-anchor="end" font-weight="normal" fill="#000" >90</text>
<text x="278" y="251.75" font-size="9.2" text-anchor="end" font-weight="normal" fill="#000" >95</text>
<text x="278" y="214.88" font-size="9.2" text-anchor="end" font-weight="normal" fill="#000" >100</text>
<text x="278" y="178" font-size="9.2" text-anchor="end" font-weight="normal" fill="#000" >105</text>
<text x="298.85" y="333" font-size="9.2" text-anchor="middle" font-weight="normal" fill="#000" >0</text>
<text x="333.55" y="333" font-size="9.2" text-anchor="middle" font-weight="normal" fill="#000" >5</text>
<text x="368.25" y="333" font-size="9.2" text-anchor="middle" font-weight="normal" fill="#000" >10</text>
<text x="402.95" y="333" font-size="9.2" text-anchor="middle" font-weight="normal" fill="#000" >15</text>
<text x="437.65" y="333" font-size="9.2" text-anchor="middle" font-weight="normal" fill="#000" >20</text>
<path d="M298.85,296.76C300.3,295.34 304.63,292.27 307.52,288.28C310.42,284.28 313.31,278.93 316.2,272.79C319.09,266.64 321.98,257.91 324.88,251.4C327.77,244.89 330.66,238.37 333.55,233.7C336.44,229.03 339.33,225.96 342.23,223.37C345.12,220.79 348.01,219.44 350.9,218.21C353.79,216.98 356.68,216.45 359.57,216C362.47,215.55 365.36,215.48 368.25,215.48C371.14,215.48 374.03,215.73 376.93,216C379.82,216.27 381.26,216.25 385.6,217.11C389.94,217.97 397.17,219.5 402.95,221.16C408.73,222.82 414.52,224.6 420.3,227.06C426.08,229.52 434.76,234.44 437.65,235.91" fill="none" stroke="#000" stroke-width="1.3"/>
<path d="M316.2,259.88V286.06M314.7,259.88h3M314.7,286.06h3" stroke="#e83030" stroke-width="0.9" fill="none"/>
<circle cx="298.85" cy="297.86" r="3.1" fill="url(#ball)"/>
<circle cx="316.2" cy="272.79" r="3.1" fill="url(#ball)"/>
<circle cx="333.55" cy="227.8" r="3.1" fill="url(#ball)"/>
<circle cx="368.25" cy="207.89" r="3.1" fill="url(#ball)"/>
<circle cx="437.65" cy="236.65" r="3.1" fill="url(#ball)"/>
<text x="368.55" y="348.5" font-size="12" text-anchor="middle"><tspan font-style="italic">h</tspan>-BN content (%)</text>
<text transform="translate(256,245.6) rotate(-90)" x="0" y="0" font-size="12.5" letter-spacing="0.3" text-anchor="middle">Contact angle (°)</text>
<text x="241.5" y="186.6" font-size="19.5" fill="#000">d)</text>
<rect x="55.2" y="358.6" width="174.3" height="146.6" fill="none" stroke="#3e3e3e" stroke-width="1.15"/>
<path d="M106.46,505.2v-3M106.46,358.6v3M157.73,505.2v-3M157.73,358.6v3M208.99,505.2v-3M208.99,358.6v3" stroke="#3e3e3e" stroke-width="1" fill="none"/>
<path d="M80.83,505.2v-1.8M80.83,358.6v1.8M132.1,505.2v-1.8M132.1,358.6v1.8M183.36,505.2v-1.8M183.36,358.6v1.8" stroke="#3e3e3e" stroke-width="1" fill="none"/>
<path d="M55.2,372.56h3M229.5,372.56h-3M55.2,400.48h3M229.5,400.48h-3M55.2,428.4h3M229.5,428.4h-3M55.2,456.32h3M229.5,456.32h-3M55.2,484.24h3M229.5,484.24h-3" stroke="#3e3e3e" stroke-width="1" fill="none"/>
<path d="M55.2,386.52h1.8M229.5,386.52h-1.8M55.2,414.44h1.8M229.5,414.44h-1.8M55.2,442.36h1.8M229.5,442.36h-1.8M55.2,470.28h1.8M229.5,470.28h-1.8M55.2,498.2h1.8M229.5,498.2h-1.8" stroke="#3e3e3e" stroke-width="1" fill="none"/>
<text x="55.2" y="515.9" font-size="9.2" text-anchor="middle" font-weight="normal" fill="#000" >4000</text>
<text x="106.46" y="515.9" font-size="9.2" text-anchor="middle" font-weight="normal" fill="#000" >3000</text>
<text x="157.73" y="515.9" font-size="9.2" text-anchor="middle" font-weight="normal" fill="#000" >2000</text>
<text x="208.99" y="515.9" font-size="9.2" text-anchor="middle" font-weight="normal" fill="#000" >1000</text>
<path d="M107.9,359.6V504.2M111.3,359.6V504.2M184,359.6V504.2M188.8,359.6V504.2M196.8,359.6V504.2M210.4,359.6V504.2M212.5,359.6V504.2" stroke="#9a9a9a" stroke-width="0.8" stroke-dasharray="1 1.4" fill="none"/>
<path d="M55.2,365.8 L60,365.3 L70,364.5 L80,364.4 L85,365 L90,366.3 L93.2,366.8 L96.3,366.9 L100,366.6 L102.1,367.5 L103.2,369.6 L104,375.9 L104.5,389.6 L105.1,405.4 L105.6,421.2 L106,427.5 L107.4,428.1 L109.5,427.8 L112.1,427 L112.6,421.2 L113.7,405.4 L114.7,391.7 L115.8,379.1 L117.2,374.3 L117.9,372.2 L118.4,371.2 L119.5,373.8 L120.5,373.6 L121.6,371.7 L123.7,368.5 L125,367.6 L126.8,366.4 L130,365.6 L134.2,365.4 L140,365.2 L153,365.1 L167,365.2 L178.1,365.1 L181.1,366.6 L182.1,370.4 L182.6,383 L183.1,400 L183.6,414 L184.1,422.6 L185,410.2 L185.9,397.2 L187,376.3 L187.4,375.6 L188,388 L188.5,397.2 L189.1,416.7 L189.6,425.9 L190.2,403.7 L191.1,381.5 L192.2,371 L193.9,368.7 L195.2,371 L196.1,390.6 L196.8,419.4 L197.4,397.2 L198.5,384.1 L200,382.2 L201.1,379.5 L202,375.6 L203.3,375.4 L205.2,378.9 L207.2,385.4 L209.2,394.6 L210.5,406 L211.5,410 L212.4,412.8 L214.4,419.4 L216.3,425.2 L218.3,428.5 L220,428.9 L229.5,428.9" fill="none" stroke="#fa0a0a" stroke-width="1.7" stroke-linejoin="round"/>
<path d="M55.2,442.3 L60,441.8 L71,440.4 L85,440.6 L90,440.5 L95.3,440.5 L100,440 L102.1,440.5 L103.5,443.2 L104.2,447.9 L104.7,461.6 L105.3,477.4 L105.8,493.2 L106.3,497.4 L107.9,497.9 L110,496.5 L111.6,496.5 L112.3,491.1 L113.2,477.4 L114.2,461.6 L115.3,451.1 L116.8,445.8 L118.2,442.6 L119.5,444.2 L120.5,443.7 L122.6,441.6 L125,439.6 L129.2,437.5 L133.4,436.4 L139,437.5 L146,435.8 L153,435 L160,434.7 L167,435.4 L174,436.1 L176.7,437.5 L178.1,440.3 L179.5,445.9 L180.7,455 L181.1,462.6 L182.4,482.2 L183.1,492.7 L183.7,495.9 L185,495.9 L186.3,496.6 L188.3,497.2 L189.6,497.9 L190,492.7 L190.9,479.6 L191.9,466.6 L193.2,457.4 L194.8,453.5 L195.7,454.8 L196.1,462.6 L196.6,486.1 L197.2,469.2 L197.8,457.4 L198.7,454.8 L200.7,453.5 L202,448.3 L203.3,447.6 L205.2,450.9 L207.2,456.1 L209.2,465.2 L211.1,477 L211.8,480.9 L213.1,483.5 L215,490.1 L217,495.9 L218.3,497.9 L220,498.1 L229.5,498.1" fill="none" stroke="#0c0cf0" stroke-width="1.7" stroke-linejoin="round"/>
<circle cx="186.7" cy="422.1" r="6.1" fill="none" stroke="#118a18" stroke-width="1.6"/>
<circle cx="186.7" cy="496.1" r="6.3" fill="none" stroke="#118a18" stroke-width="1.6"/>
<text x="69.8" y="376" font-size="8.2" font-weight="bold" fill="#f01010">PIB</text>
<text x="61.3" y="452.4" font-size="8.2" font-weight="bold" fill="#1010e8"><tspan font-style="italic">h</tspan>-BN/PIB</text>
<text x="136.8" y="528.9" font-size="12.8" letter-spacing="0.3" text-anchor="middle">Wavenumber (cm<tspan font-size="7.5" dy="-5">-1</tspan><tspan dy="5">)</tspan></text>
<text transform="translate(46.2,430.7) rotate(-90)" x="0" y="0" font-size="12.5" text-anchor="middle">Transmittance (a.u.)</text>
<text x="8" y="369.6" font-size="19.5" fill="#000">e)</text>
<rect x="284.5" y="358" width="171.5" height="146.3" fill="none" stroke="#3e3e3e" stroke-width="1.15"/>
<path d="M313.08,504.3v-3M313.08,358v3M341.67,504.3v-3M341.67,358v3M370.25,504.3v-3M370.25,358v3M398.83,504.3v-3M398.83,358v3M427.42,504.3v-3M427.42,358v3" stroke="#3e3e3e" stroke-width="1" fill="none"/>
<path d="M298.79,504.3v-1.8M298.79,358v1.8M327.38,504.3v-1.8M327.38,358v1.8M355.96,504.3v-1.8M355.96,358v1.8M384.54,504.3v-1.8M384.54,358v1.8M413.12,504.3v-1.8M413.12,358v1.8M441.71,504.3v-1.8M441.71,358v1.8" stroke="#3e3e3e" stroke-width="1" fill="none"/>
<path d="M284.5,367.6h2.2M456,367.6h-2.2M284.5,391.1h2.2M456,391.1h-2.2M284.5,414.6h2.2M456,414.6h-2.2M284.5,438.1h2.2M456,438.1h-2.2M284.5,461.6h2.2M456,461.6h-2.2M284.5,485.1h2.2M456,485.1h-2.2" stroke="#3e3e3e" stroke-width="1" fill="none"/>
<text x="284.5" y="515" font-size="9" text-anchor="middle" font-weight="normal" fill="#000" >500</text>
<text x="313.08" y="515" font-size="9" text-anchor="middle" font-weight="normal" fill="#000" >1000</text>
<text x="341.67" y="515" font-size="9" text-anchor="middle" font-weight="normal" fill="#000" >1500</text>
<text x="370.25" y="515" font-size="9" text-anchor="middle" font-weight="normal" fill="#000" >2000</text>
<text x="398.83" y="515" font-size="9" text-anchor="middle" font-weight="normal" fill="#000" >2500</text>
<text x="427.42" y="515" font-size="9" text-anchor="middle" font-weight="normal" fill="#000" >3000</text>
<text x="456" y="515" font-size="9" text-anchor="middle" font-weight="normal" fill="#000" >3500</text>
<path d="M284.5,386.29 L285.3,386.29 L286.1,386.29 L286.9,386.28 L287.7,386.28 L288.5,386.28 L289.3,386.28 L290.1,386.27 L290.9,386.27 L291.7,386.26 L292.5,386.25 L293.3,386.23 L293.7,386.21 L294.1,386.19 L294.5,386.17 L294.9,386.12 L295.3,386.06 L295.7,385.94 L296.1,385.73 L296.5,385.27 L296.91,384.27 L297.31,383.28 L297.71,384.26 L298.11,385.26 L298.51,385.72 L298.91,385.93 L299.31,386.04 L299.71,386.1 L300.11,386.14 L300.51,386.16 L300.91,386.17 L301.31,386.17 L301.71,386.17 L302.51,386.14 L303.31,386.06 L304.11,385.81 L304.91,385.27 L305.71,385.57 L306.51,385.92 L307.31,385.96 L308.11,385.77 L308.91,385.27 L309.71,385.6 L310.51,385.99 L311.31,386.13 L312.11,386.19 L312.91,386.22 L313.71,386.24 L314.51,386.25 L315.31,386.25 L316.11,386.25 L316.91,386.25 L317.71,386.25 L318.51,386.25 L319.31,386.25 L320.11,386.24 L320.92,386.23 L321.72,386.22 L322.52,386.2 L323.32,386.16 L324.12,386.09 L324.92,385.92 L325.72,385.43 L326.52,384.62 L327.32,385.4 L328.12,385.86 L328.92,385.98 L329.72,385.99 L330.52,385.93 L330.92,385.87 L331.32,385.77 L331.72,385.62 L332.12,385.38 L332.52,384.96 L332.92,384.18 L333.32,382.5 L333.72,378.45 L334.12,371.39 L334.52,374.33 L334.92,380.63 L335.32,383.38 L335.72,384.55 L336.12,385.13 L336.52,385.43 L336.92,385.58 L337.32,385.64 L337.72,385.61 L338.12,385.45 L338.52,385.18 L338.92,385.13 L339.72,385.72 L340.52,386.01 L341.32,386.12 L342.12,386.17 L342.92,386.2 L343.72,386.22 L344.52,386.24 L345.33,386.25 L346.13,386.25 L346.93,386.26 L347.73,386.27 L348.53,386.27 L349.33,386.27 L350.13,386.28 L350.93,386.28 L351.73,386.28 L352.53,386.28 L353.33,386.28 L354.13,386.28 L354.93,386.29 L355.73,386.29 L356.53,386.29 L357.33,386.29 L358.13,386.29 L358.93,386.29 L359.73,386.29 L360.53,386.29 L361.33,386.29 L362.13,386.29 L362.93,386.29 L363.73,386.29 L364.53,386.29 L365.33,386.29 L366.13,386.29 L366.93,386.29 L367.73,386.29 L368.53,386.29 L369.34,386.29 L370.14,386.3 L370.94,386.3 L371.74,386.3 L372.54,386.3 L373.34,386.3 L374.14,386.3 L374.94,386.3 L375.74,386.3 L376.54,386.3 L377.34,386.3 L378.14,386.3 L378.94,386.3 L379.74,386.3 L380.54,386.3 L381.34,386.3 L382.14,386.3 L382.94,386.3 L383.74,386.3 L384.54,386.3 L385.34,386.3 L386.14,386.3 L386.94,386.3 L387.74,386.3 L388.54,386.3 L389.34,386.3 L390.14,386.3 L390.94,386.3 L391.74,386.3 L392.55,386.3 L393.35,386.3 L394.15,386.3 L394.95,386.3 L395.75,386.3 L396.55,386.3 L397.35,386.3 L398.15,386.3 L398.95,386.3 L399.75,386.3 L400.55,386.3 L401.35,386.3 L402.15,386.3 L402.95,386.3 L403.75,386.3 L404.55,386.3 L405.35,386.3 L406.15,386.3 L406.95,386.3 L407.75,386.3 L408.55,386.3 L409.35,386.3 L410.15,386.3 L410.95,386.3 L411.75,386.3 L412.55,386.3 L413.35,386.3 L414.15,386.3 L414.95,386.3 L415.75,386.3 L416.56,386.3 L417.36,386.28 L418.16,385.96 L418.96,385.66 L419.76,384.13 L420.56,382.44 L421.36,379.36 L422.16,378.27 L422.96,378.88 L423.76,379.66 L424.56,380.24 L425.36,381.25 L426.16,381.72 L426.96,382.56 L427.76,383.72 L428.56,384.85 L429.36,385.86 L430.16,386.29 L430.96,386.3 L431.76,386.3 L432.56,386.3 L433.36,386.3 L434.16,386.3 L434.96,386.3 L435.76,386.3 L436.56,386.3 L437.36,386.3 L438.16,386.3 L438.96,386.3 L439.76,386.3 L440.56,386.3 L441.37,386.3 L442.17,386.3 L442.97,386.3 L443.77,386.3 L444.57,386.3 L445.37,386.3 L446.17,386.3 L446.97,386.3 L447.77,386.3 L448.57,386.3 L449.37,386.3 L450.17,386.3 L450.97,386.3 L451.77,386.3 L452.57,386.3 L453.37,386.3 L454.17,386.3 L454.97,386.3 L455.77,386.3" fill="none" stroke="#ff22ff" stroke-width="1.3" stroke-linejoin="round"/>
<path d="M284.5,400.49 L285.3,400.49 L286.1,400.49 L286.9,400.49 L287.7,400.49 L288.5,400.49 L289.3,400.48 L290.1,400.48 L290.9,400.48 L291.7,400.47 L292.5,400.46 L293.3,400.45 L293.7,400.44 L294.1,400.42 L294.5,400.4 L294.9,400.37 L295.3,400.32 L295.7,400.24 L296.1,400.08 L296.5,399.75 L296.91,399.01 L297.31,398.29 L297.71,399.01 L298.11,399.74 L298.51,400.08 L298.91,400.23 L299.31,400.31 L299.71,400.36 L300.11,400.39 L300.51,400.4 L300.91,400.41 L301.31,400.42 L301.71,400.42 L302.51,400.4 L303.31,400.35 L304.11,400.2 L304.91,399.88 L305.71,400.06 L306.51,400.27 L307.31,400.3 L308.11,400.18 L308.91,399.88 L309.71,400.08 L310.51,400.32 L311.31,400.4 L312.11,400.44 L312.91,400.45 L313.71,400.46 L314.51,400.47 L315.31,400.47 L316.11,400.47 L316.91,400.47 L317.71,400.47 L318.51,400.47 L319.31,400.47 L320.11,400.47 L320.92,400.46 L321.72,400.45 L322.52,400.44 L323.32,400.42 L324.12,400.37 L324.92,400.27 L325.72,399.97 L326.52,399.46 L327.32,399.95 L328.12,400.24 L328.92,400.32 L329.72,400.34 L330.52,400.31 L330.92,400.28 L331.32,400.23 L331.72,400.16 L332.12,400.04 L332.52,399.84 L332.92,399.46 L333.32,398.64 L333.72,396.67 L334.12,393.22 L334.52,394.65 L334.92,397.72 L335.32,399.06 L335.72,399.63 L336.12,399.9 L336.52,400.04 L336.92,400.1 L337.32,400.11 L337.72,400.05 L338.12,399.9 L338.52,399.68 L338.92,399.62 L339.72,400.08 L340.52,400.3 L341.32,400.38 L342.12,400.42 L342.92,400.44 L343.72,400.45 L344.52,400.46 L345.33,400.47 L346.13,400.47 L346.93,400.48 L347.73,400.48 L348.53,400.48 L349.33,400.48 L350.13,400.49 L350.93,400.49 L351.73,400.49 L352.53,400.49 L353.33,400.49 L354.13,400.49 L354.93,400.49 L355.73,400.49 L356.53,400.49 L357.33,400.49 L358.13,400.49 L358.93,400.49 L359.73,400.49 L360.53,400.49 L361.33,400.5 L362.13,400.5 L362.93,400.5 L363.73,400.5 L364.53,400.5 L365.33,400.5 L366.13,400.5 L366.93,400.5 L367.73,400.5 L368.53,400.5 L369.34,400.5 L370.14,400.5 L370.94,400.5 L371.74,400.5 L372.54,400.5 L373.34,400.5 L374.14,400.5 L374.94,400.5 L375.74,400.5 L376.54,400.5 L377.34,400.5 L378.14,400.5 L378.94,400.5 L379.74,400.5 L380.54,400.5 L381.34,400.5 L382.14,400.5 L382.94,400.5 L383.74,400.5 L384.54,400.5 L385.34,400.5 L386.14,400.5 L386.94,400.5 L387.74,400.5 L388.54,400.5 L389.34,400.5 L390.14,400.5 L390.94,400.5 L391.74,400.5 L392.55,400.5 L393.35,400.5 L394.15,400.5 L394.95,400.5 L395.75,400.5 L396.55,400.5 L397.35,400.5 L398.15,400.5 L398.95,400.5 L399.75,400.5 L400.55,400.5 L401.35,400.5 L402.15,400.5 L402.95,400.5 L403.75,400.5 L404.55,400.5 L405.35,400.5 L406.15,400.5 L406.95,400.5 L407.75,400.5 L408.55,400.5 L409.35,400.5 L410.15,400.5 L410.95,400.5 L411.75,400.5 L412.55,400.5 L413.35,400.5 L414.15,400.5 L414.95,400.5 L415.75,400.5 L416.56,400.5 L417.36,400.47 L418.16,400.14 L418.96,399.83 L419.76,398.26 L420.56,396.5 L421.36,393.3 L422.16,392.18 L422.96,392.81 L423.76,393.61 L424.56,394.22 L425.36,395.27 L426.16,395.76 L426.96,396.62 L427.76,397.83 L428.56,399 L429.36,400.04 L430.16,400.49 L430.96,400.5 L431.76,400.5 L432.56,400.5 L433.36,400.5 L434.16,400.5 L434.96,400.5 L435.76,400.5 L436.56,400.5 L437.36,400.5 L438.16,400.5 L438.96,400.5 L439.76,400.5 L440.56,400.5 L441.37,400.5 L442.17,400.5 L442.97,400.5 L443.77,400.5 L444.57,400.5 L445.37,400.5 L446.17,400.5 L446.97,400.5 L447.77,400.5 L448.57,400.5 L449.37,400.5 L450.17,400.5 L450.97,400.5 L451.77,400.5 L452.57,400.5 L453.37,400.5 L454.17,400.5 L454.97,400.5 L455.77,400.5" fill="none" stroke="#10cc10" stroke-width="1.3" stroke-linejoin="round"/>
<path d="M284.5,414.79 L285.3,414.79 L286.1,414.79 L286.9,414.79 L287.7,414.79 L288.5,414.78 L289.3,414.78 L290.1,414.78 L290.9,414.77 L291.7,414.76 L292.5,414.75 L293.3,414.74 L293.7,414.72 L294.1,414.71 L294.5,414.68 L294.9,414.64 L295.3,414.58 L295.7,414.47 L296.1,414.27 L296.5,413.84 L296.91,412.91 L297.31,411.99 L297.71,412.91 L298.11,413.84 L298.51,414.26 L298.91,414.46 L299.31,414.57 L299.71,414.62 L300.11,414.66 L300.51,414.68 L300.91,414.69 L301.31,414.7 L301.71,414.7 L302.51,414.68 L303.31,414.62 L304.11,414.45 L304.91,414.08 L305.71,414.29 L306.51,414.53 L307.31,414.56 L308.11,414.43 L308.91,414.08 L309.71,414.31 L310.51,414.59 L311.31,414.69 L312.11,414.73 L312.91,414.75 L313.71,414.76 L314.51,414.76 L315.31,414.77 L316.11,414.77 L316.91,414.77 L317.71,414.77 L318.51,414.77 L319.31,414.77 L320.11,414.77 L320.92,414.76 L321.72,414.75 L322.52,414.74 L323.32,414.72 L324.12,414.68 L324.92,414.57 L325.72,414.27 L326.52,413.77 L327.32,414.26 L328.12,414.55 L328.92,414.64 L329.72,414.66 L330.52,414.64 L330.92,414.62 L331.32,414.58 L331.72,414.52 L332.12,414.43 L332.52,414.27 L332.92,413.97 L333.32,413.33 L333.72,411.77 L334.12,409.05 L334.52,410.18 L334.92,412.6 L335.32,413.65 L335.72,414.1 L336.12,414.31 L336.52,414.42 L336.92,414.46 L337.32,414.45 L337.72,414.38 L338.12,414.23 L338.52,414 L338.92,413.94 L339.72,414.4 L340.52,414.61 L341.32,414.69 L342.12,414.73 L342.92,414.75 L343.72,414.76 L344.52,414.77 L345.33,414.77 L346.13,414.78 L346.93,414.78 L347.73,414.78 L348.53,414.78 L349.33,414.79 L350.13,414.79 L350.93,414.79 L351.73,414.79 L352.53,414.79 L353.33,414.79 L354.13,414.79 L354.93,414.79 L355.73,414.79 L356.53,414.79 L357.33,414.79 L358.13,414.79 L358.93,414.79 L359.73,414.8 L360.53,414.8 L361.33,414.8 L362.13,414.8 L362.93,414.8 L363.73,414.8 L364.53,414.8 L365.33,414.8 L366.13,414.8 L366.93,414.8 L367.73,414.8 L368.53,414.8 L369.34,414.8 L370.14,414.8 L370.94,414.8 L371.74,414.8 L372.54,414.8 L373.34,414.8 L374.14,414.8 L374.94,414.8 L375.74,414.8 L376.54,414.8 L377.34,414.8 L378.14,414.8 L378.94,414.8 L379.74,414.8 L380.54,414.8 L381.34,414.8 L382.14,414.8 L382.94,414.8 L383.74,414.8 L384.54,414.8 L385.34,414.8 L386.14,414.8 L386.94,414.8 L387.74,414.8 L388.54,414.8 L389.34,414.8 L390.14,414.8 L390.94,414.8 L391.74,414.8 L392.55,414.8 L393.35,414.8 L394.15,414.8 L394.95,414.8 L395.75,414.8 L396.55,414.8 L397.35,414.8 L398.15,414.8 L398.95,414.8 L399.75,414.8 L400.55,414.8 L401.35,414.8 L402.15,414.8 L402.95,414.8 L403.75,414.8 L404.55,414.8 L405.35,414.8 L406.15,414.8 L406.95,414.8 L407.75,414.8 L408.55,414.8 L409.35,414.8 L410.15,414.8 L410.95,414.8 L411.75,414.8 L412.55,414.8 L413.35,414.8 L414.15,414.8 L414.95,414.8 L415.75,414.8 L416.56,414.8 L417.36,414.77 L418.16,414.42 L418.96,414.09 L419.76,412.42 L420.56,410.57 L421.36,407.18 L422.16,405.99 L422.96,406.66 L423.76,407.51 L424.56,408.15 L425.36,409.26 L426.16,409.78 L426.96,410.7 L427.76,411.97 L428.56,413.21 L429.36,414.32 L430.16,414.78 L430.96,414.8 L431.76,414.8 L432.56,414.8 L433.36,414.8 L434.16,414.8 L434.96,414.8 L435.76,414.8 L436.56,414.8 L437.36,414.8 L438.16,414.8 L438.96,414.8 L439.76,414.8 L440.56,414.8 L441.37,414.8 L442.17,414.8 L442.97,414.8 L443.77,414.8 L444.57,414.8 L445.37,414.8 L446.17,414.8 L446.97,414.8 L447.77,414.8 L448.57,414.8 L449.37,414.8 L450.17,414.8 L450.97,414.8 L451.77,414.8 L452.57,414.8 L453.37,414.8 L454.17,414.8 L454.97,414.8 L455.77,414.8" fill="none" stroke="#8a1414" stroke-width="1.3" stroke-linejoin="round"/>
<path d="M284.5,433.59 L285.3,433.59 L286.1,433.58 L286.9,433.58 L287.7,433.58 L288.5,433.58 L289.3,433.57 L290.1,433.57 L290.9,433.56 L291.7,433.55 L292.5,433.53 L293.3,433.5 L293.7,433.48 L294.1,433.46 L294.5,433.42 L294.9,433.36 L295.3,433.27 L295.7,433.11 L296.1,432.81 L296.5,432.16 L296.91,430.76 L297.31,429.38 L297.71,430.76 L298.11,432.15 L298.51,432.79 L298.91,433.09 L299.31,433.24 L299.71,433.33 L300.11,433.38 L300.51,433.41 L300.91,433.43 L301.31,433.44 L301.71,433.44 L302.51,433.41 L303.31,433.3 L304.11,433.01 L304.91,432.37 L305.71,432.72 L306.51,433.14 L307.31,433.2 L308.11,432.97 L308.91,432.37 L309.71,432.76 L310.51,433.24 L311.31,433.41 L312.11,433.48 L312.91,433.51 L313.71,433.53 L314.51,433.54 L315.31,433.55 L316.11,433.56 L316.91,433.56 L317.71,433.56 L318.51,433.56 L319.31,433.56 L320.11,433.55 L320.92,433.55 L321.72,433.54 L322.52,433.52 L323.32,433.49 L324.12,433.42 L324.92,433.27 L325.72,432.82 L326.52,432.06 L327.32,432.81 L328.12,433.25 L328.92,433.39 L329.72,433.43 L330.52,433.43 L330.92,433.41 L331.32,433.38 L331.72,433.33 L332.12,433.26 L332.52,433.12 L332.92,432.86 L333.32,432.3 L333.72,430.94 L334.12,428.59 L334.52,429.56 L334.92,431.65 L335.32,432.56 L335.72,432.94 L336.12,433.11 L336.52,433.18 L336.92,433.19 L337.32,433.13 L337.72,432.99 L338.12,432.69 L338.52,432.28 L338.92,432.16 L339.72,432.94 L340.52,433.31 L341.32,433.44 L342.12,433.49 L342.92,433.53 L343.72,433.54 L344.52,433.56 L345.33,433.56 L346.13,433.57 L346.93,433.57 L347.73,433.58 L348.53,433.58 L349.33,433.58 L350.13,433.58 L350.93,433.59 L351.73,433.59 L352.53,433.59 L353.33,433.59 L354.13,433.59 L354.93,433.59 L355.73,433.59 L356.53,433.59 L357.33,433.59 L358.13,433.59 L358.93,433.59 L359.73,433.59 L360.53,433.59 L361.33,433.59 L362.13,433.59 L362.93,433.6 L363.73,433.6 L364.53,433.6 L365.33,433.6 L366.13,433.6 L366.93,433.6 L367.73,433.6 L368.53,433.6 L369.34,433.6 L370.14,433.6 L370.94,433.6 L371.74,433.6 L372.54,433.6 L373.34,433.6 L374.14,433.6 L374.94,433.6 L375.74,433.6 L376.54,433.6 L377.34,433.6 L378.14,433.6 L378.94,433.6 L379.74,433.6 L380.54,433.6 L381.34,433.6 L382.14,433.6 L382.94,433.6 L383.74,433.6 L384.54,433.6 L385.34,433.6 L386.14,433.6 L386.94,433.6 L387.74,433.6 L388.54,433.6 L389.34,433.6 L390.14,433.6 L390.94,433.6 L391.74,433.6 L392.55,433.6 L393.35,433.6 L394.15,433.6 L394.95,433.6 L395.75,433.6 L396.55,433.6 L397.35,433.6 L398.15,433.6 L398.95,433.6 L399.75,433.6 L400.55,433.6 L401.35,433.6 L402.15,433.6 L402.95,433.6 L403.75,433.6 L404.55,433.6 L405.35,433.6 L406.15,433.6 L406.95,433.6 L407.75,433.6 L408.55,433.6 L409.35,433.6 L410.15,433.6 L410.95,433.6 L411.75,433.6 L412.55,433.6 L413.35,433.6 L414.15,433.6 L414.95,433.6 L415.75,433.6 L416.56,433.6 L417.36,433.56 L418.16,433 L418.96,432.47 L419.76,429.8 L420.56,426.83 L421.36,421.41 L422.16,419.5 L422.96,420.58 L423.76,421.94 L424.56,422.96 L425.36,424.73 L426.16,425.56 L426.96,427.03 L427.76,429.07 L428.56,431.06 L429.36,432.83 L430.16,433.58 L430.96,433.6 L431.76,433.6 L432.56,433.6 L433.36,433.6 L434.16,433.6 L434.96,433.6 L435.76,433.6 L436.56,433.6 L437.36,433.6 L438.16,433.6 L438.96,433.6 L439.76,433.6 L440.56,433.6 L441.37,433.6 L442.17,433.6 L442.97,433.6 L443.77,433.6 L444.57,433.6 L445.37,433.6 L446.17,433.6 L446.97,433.6 L447.77,433.6 L448.57,433.6 L449.37,433.6 L450.17,433.6 L450.97,433.6 L451.77,433.6 L452.57,433.6 L453.37,433.6 L454.17,433.6 L454.97,433.6 L455.77,433.6" fill="none" stroke="#1010ee" stroke-width="1.3" stroke-linejoin="round"/>
<path d="M284.5,461.78 L285.3,461.78 L286.1,461.78 L286.9,461.77 L287.7,461.77 L288.5,461.76 L289.3,461.76 L290.1,461.75 L290.9,461.74 L291.7,461.72 L292.5,461.7 L293.3,461.66 L293.7,461.63 L294.1,461.59 L294.5,461.53 L294.9,461.44 L295.3,461.3 L295.7,461.05 L296.1,460.59 L296.5,459.61 L296.91,457.48 L297.31,455.37 L297.71,457.47 L298.11,459.6 L298.51,460.58 L298.91,461.03 L299.31,461.27 L299.71,461.4 L300.11,461.48 L300.51,461.53 L300.91,461.56 L301.31,461.58 L301.71,461.58 L302.51,461.54 L303.31,461.42 L304.11,461.05 L304.91,460.26 L305.71,460.7 L306.51,461.22 L307.31,461.3 L308.11,461.01 L308.91,460.26 L309.71,460.75 L310.51,461.35 L311.31,461.56 L312.11,461.65 L312.91,461.69 L313.71,461.72 L314.51,461.73 L315.31,461.74 L316.11,461.74 L316.91,461.75 L317.71,461.75 L318.51,461.75 L319.31,461.74 L320.11,461.74 L320.92,461.73 L321.72,461.71 L322.52,461.69 L323.32,461.64 L324.12,461.54 L324.92,461.3 L325.72,460.58 L326.52,459.38 L327.32,460.58 L328.12,461.29 L328.92,461.53 L329.72,461.63 L330.52,461.67 L330.92,461.68 L331.32,461.69 L331.72,461.7 L332.12,461.7 L332.52,461.7 L332.92,461.7 L333.32,461.69 L333.72,461.69 L334.12,461.68 L334.52,461.66 L334.92,461.64 L335.32,461.61 L335.72,461.57 L336.12,461.51 L336.52,461.42 L336.92,461.28 L337.32,461.04 L337.72,460.62 L338.12,459.88 L338.52,458.86 L338.92,458.55 L339.72,460.36 L340.52,461.2 L341.32,461.49 L342.12,461.61 L342.92,461.67 L343.72,461.71 L344.52,461.73 L345.33,461.74 L346.13,461.75 L346.93,461.76 L347.73,461.77 L348.53,461.77 L349.33,461.78 L350.13,461.78 L350.93,461.78 L351.73,461.78 L352.53,461.78 L353.33,461.79 L354.13,461.79 L354.93,461.79 L355.73,461.79 L356.53,461.79 L357.33,461.79 L358.13,461.79 L358.93,461.79 L359.73,461.79 L360.53,461.79 L361.33,461.79 L362.13,461.79 L362.93,461.79 L363.73,461.79 L364.53,461.79 L365.33,461.79 L366.13,461.8 L366.93,461.8 L367.73,461.8 L368.53,461.8 L369.34,461.8 L370.14,461.8 L370.94,461.8 L371.74,461.8 L372.54,461.8 L373.34,461.8 L374.14,461.8 L374.94,461.8 L375.74,461.8 L376.54,461.8 L377.34,461.8 L378.14,461.8 L378.94,461.8 L379.74,461.8 L380.54,461.8 L381.34,461.8 L382.14,461.8 L382.94,461.8 L383.74,461.8 L384.54,461.8 L385.34,461.8 L386.14,461.8 L386.94,461.8 L387.74,461.8 L388.54,461.8 L389.34,461.8 L390.14,461.8 L390.94,461.8 L391.74,461.8 L392.55,461.8 L393.35,461.8 L394.15,461.77 L394.95,461.73 L395.75,461.66 L396.55,461.57 L397.35,461.46 L398.15,461.34 L398.95,461.22 L399.75,461.08 L400.55,460.95 L401.35,460.82 L402.15,460.69 L402.95,460.57 L403.75,460.46 L404.55,460.37 L405.35,460.29 L406.15,460.23 L406.95,460.2 L407.75,460.19 L408.55,460.07 L409.35,459.86 L410.15,459.58 L410.95,459.27 L411.75,458.95 L412.55,458.65 L413.35,458.41 L414.15,458.25 L414.95,458.2 L415.75,458.1 L416.56,457.94 L417.36,457.75 L418.16,456.73 L418.96,455.59 L419.76,451.07 L420.56,446.15 L421.36,437.18 L422.16,434.09 L422.96,435.97 L423.76,438.3 L424.56,440.06 L425.36,443.06 L426.16,444.98 L426.96,448.38 L427.76,452.8 L428.56,456.87 L429.36,460.03 L430.16,461.58 L430.96,461.8 L431.76,461.8 L432.56,461.8 L433.36,461.8 L434.16,461.8 L434.96,461.8 L435.76,461.8 L436.56,461.8 L437.36,461.8 L438.16,461.8 L438.96,461.8 L439.76,461.8 L440.56,461.8 L441.37,461.8 L442.17,461.8 L442.97,461.8 L443.77,461.8 L444.57,461.8 L445.37,461.8 L446.17,461.8 L446.97,461.8 L447.77,461.8 L448.57,461.8 L449.37,461.8 L450.17,461.8 L450.97,461.8 L451.77,461.8 L452.57,461.8 L453.37,461.8 L454.17,461.8 L454.97,461.8 L455.77,461.8" fill="none" stroke="#f01818" stroke-width="1.3" stroke-linejoin="round"/>
<path d="M284.5,492.2 L285.19,492.2 L285.87,492.2 L286.56,492.2 L287.24,492.2 L287.93,492.2 L288.62,492.2 L289.3,492.2 L289.99,492.2 L290.67,492.2 L291.36,492.2 L292.05,492.2 L292.73,492.2 L293.42,492.2 L294.1,492.2 L294.79,492.2 L295.48,492.2 L296.16,492.2 L296.85,492.2 L297.53,492.2 L298.22,492.2 L298.91,492.2 L299.59,492.2 L300.28,492.2 L300.96,492.2 L301.65,492.2 L302.34,492.2 L303.02,492.2 L303.71,492.2 L304.39,492.2 L305.08,492.2 L305.77,492.19 L306.45,492.19 L307.14,492.19 L307.82,492.19 L308.51,492.19 L309.2,492.19 L309.88,492.19 L310.57,492.19 L311.25,492.19 L311.94,492.19 L312.63,492.19 L313.31,492.19 L314,492.19 L314.68,492.19 L315.37,492.19 L316.06,492.19 L316.74,492.19 L317.43,492.19 L318.11,492.18 L318.8,492.18 L319.49,492.18 L320.17,492.18 L320.86,492.18 L321.54,492.17 L322.23,492.17 L322.92,492.17 L323.6,492.16 L324.29,492.16 L324.97,492.15 L325.66,492.14 L326.35,492.13 L327.03,492.12 L327.72,492.1 L328.4,492.08 L329.09,492.04 L329.78,491.99 L330.46,491.59 L330.75,491.9 L331.03,491.63 L331.32,491.82 L331.61,491.73 L331.89,490.9 L332.18,490.61 L332.46,491.26 L332.75,490.01 L333.03,489.03 L333.32,488.13 L333.61,483.58 L333.89,475.32 L334.18,466.07 L334.46,475.08 L334.75,483.2 L335.04,487.69 L335.32,489.79 L335.61,490.33 L335.89,491.14 L336.18,491.4 L336.46,490.9 L336.75,491.89 L337.04,491.81 L337.32,491.55 L337.61,491.29 L337.89,492.34 L338.18,491.91 L338.47,492.24 L338.75,492.46 L339.04,492.28 L339.72,492.57 L340.41,491.97 L341.1,492.47 L341.78,492.06 L342.47,492.66 L343.15,492.6 L343.84,491.67 L344.52,491.72 L345.21,491.83 L345.9,492.73 L346.58,492.1 L347.27,492.33 L347.95,491.94 L348.64,492.19 L349.33,492.04 L350.01,492 L350.7,492.29 L351.38,492.29 L352.07,492.67 L352.76,492.41 L353.44,492.7 L354.13,492.62 L354.81,492.78 L355.5,492.4 L356.19,491.79 L356.87,492.62 L357.56,492.75 L358.25,492.68 L358.93,492.28 L359.62,492.45 L360.3,491.85 L360.99,492.59 L361.68,492.28 L362.36,491.94 L363.05,491.67 L363.73,492.62 L364.42,492.78 L365.11,491.7 L365.79,492.56 L366.48,492.09 L367.16,491.78 L367.85,491.95 L368.53,492.52 L369.22,492.64 L369.91,491.65 L370.59,492.33 L371.28,491.65 L371.97,492.46 L372.65,491.99 L373.34,492.65 L374.02,492.77 L374.71,492.2 L375.39,492.8 L376.08,491.97 L376.77,491.69 L377.45,492.32 L378.14,491.64 L378.82,491.83 L379.51,492.09 L380.2,492.33 L380.88,491.79 L381.57,491.65 L382.25,492.64 L382.94,491.97 L383.63,492.75 L384.31,492.67 L385,492.05 L385.69,492.15 L386.37,492.22 L387.06,492.37 L387.74,492.31 L388.43,492.27 L389.12,492.34 L389.8,492.73 L390.49,492.21 L391.17,492.12 L391.86,492.46 L392.55,491.88 L393.23,491.96 L393.92,492.77 L394.6,492.22 L395.29,492.26 L395.98,491.61 L396.66,492.1 L397.35,492.29 L398.03,491.62 L398.72,492.34 L399.4,492.36 L400.09,491.67 L400.78,492.35 L401.46,492.16 L402.15,492.41 L402.83,492.02 L403.52,492.45 L404.21,492.48 L404.89,491.63 L405.58,491.67 L406.26,492.41 L406.95,492.76 L407.64,491.9 L408.32,492.15 L409.01,492.31 L409.69,491.98 L410.38,492.04 L411.07,491.97 L411.75,492.04 L412.44,492.31 L413.12,491.96 L413.81,492.05 L414.5,492.53 L415.18,491.63 L415.87,492.28 L416.56,492.48 L417.24,491.97 L417.93,491.87 L418.61,492.56 L419.3,491.89 L419.99,491.82 L420.67,492.12 L421.36,492.44 L422.04,491.72 L422.73,491.99 L423.42,492 L424.1,492.6 L424.79,492.13 L425.47,492.63 L426.16,491.8 L426.85,492 L427.53,492.38 L428.22,492.66 L428.9,492.14 L429.59,491.87 L430.27,491.74 L430.96,492.24 L431.65,491.83 L432.33,492.57 L433.02,492.61 L433.71,491.82 L434.39,491.93 L435.08,492.57 L435.76,492.37 L436.45,492.57 L437.13,492.01 L437.82,491.76 L438.51,491.95 L439.19,492.55 L439.88,491.93 L440.56,492.02 L441.25,492.1 L441.94,492.1 L442.62,492.09 L443.31,492.7 L444,491.79 L444.68,491.61 L445.37,492.73 L446.05,492.66 L446.74,492.78 L447.42,492.12 L448.11,492.74 L448.8,492.71 L449.48,491.87 L450.17,492.49 L450.86,492.6 L451.54,492.4 L452.23,492.22 L452.91,491.95 L453.6,492.01 L454.28,491.87 L454.97,491.68 L455.66,492.31" fill="none" stroke="#000" stroke-width="1.6" stroke-linejoin="round"/>
<rect x="327.9" y="366" width="12.9" height="133" fill="none" stroke="#a4564e" stroke-width="1.2" stroke-dasharray="3 3"/>
<rect x="410.4" y="365.8" width="24.3" height="133.2" fill="none" stroke="#a4564e" stroke-width="1.2" stroke-dasharray="3 3"/>
<text x="351.2" y="383" font-size="7.05" font-weight="bold" fill="#ff22ff"><tspan font-style="italic">h</tspan>-BN/PIB 20%</text>
<text x="351.2" y="397.8" font-size="7.05" font-weight="bold" fill="#10cc10"><tspan font-style="italic">h</tspan>-BN/PIB 10%</text>
<text x="351.2" y="412.2" font-size="7.05" font-weight="bold" fill="#8a1414"><tspan font-style="italic">h</tspan>-BN/PIB 5%</text>
<text x="351.2" y="431.6" font-size="7.05" font-weight="bold" fill="#1010ee"><tspan font-style="italic">h</tspan>-BN/PIB 2.5%</text>
<text x="352" y="458.6" font-size="7.2" font-weight="bold" fill="#f01818">Pristine PIB</text>
<text x="364.3" y="488.6" font-size="7.2" font-weight="bold" fill="#000"><tspan font-style="italic">h</tspan>-BN</text>
<text x="370" y="528.9" font-size="11.8" text-anchor="middle">Wavenumber (cm<tspan font-size="7" dy="-4.5">-1</tspan><tspan dy="4.5">)</tspan></text>
<text transform="translate(278.2,431.5) rotate(-90)" x="0" y="0" font-size="12.6" text-anchor="middle">Intensity (a.u.)</text>
<text x="248" y="368.6" font-size="19.5" fill="#000">f)</text>
<rect x="55.2" y="538.3" width="174.3" height="146.2" fill="none" stroke="#3e3e3e" stroke-width="1.15"/>
<path d="M67.65,684.5v-3M105,684.5v-3M142.35,684.5v-3M179.7,684.5v-3M217.05,684.5v-3" stroke="#3e3e3e" stroke-width="1" fill="none"/>
<path d="M86.33,684.5v-1.8M123.68,684.5v-1.8M161.03,684.5v-1.8M198.38,684.5v-1.8" stroke="#3e3e3e" stroke-width="1" fill="none"/>
<path d="M229.5,538.3V684.5H55.8" fill="none" stroke="#7a7a7a" stroke-width="1.3"/>
<text x="67.65" y="694.8" font-size="9" text-anchor="middle" font-weight="normal" fill="#000" >1335</text>
<text x="105" y="694.8" font-size="9" text-anchor="middle" font-weight="normal" fill="#000" >1350</text>
<text x="142.35" y="694.8" font-size="9" text-anchor="middle" font-weight="normal" fill="#000" >1365</text>
<text x="179.7" y="694.8" font-size="9" text-anchor="middle" font-weight="normal" fill="#000" >1380</text>
<text x="217.05" y="694.8" font-size="9" text-anchor="middle" font-weight="normal" fill="#000" >1395</text>
<path d="M55.2,671C55.41,671 56.03,671 56.45,671C56.86,671 57.28,671 57.69,671.01C58.11,671.01 58.52,671.01 58.94,671.01C59.35,671.02 59.77,671.02 60.18,671.02C60.6,671.03 61.01,671.03 61.43,671.04C61.84,671.04 62.26,671.05 62.67,671.05C63.09,671.06 63.5,671.06 63.92,671.07C64.33,671.07 64.75,671.08 65.16,671.09C65.57,671.09 65.99,671.1 66.41,671.11C66.82,671.11 67.23,671.12 67.65,671.13C68.07,671.14 68.48,671.14 68.9,671.15C69.31,671.16 69.72,671.17 70.14,671.18C70.56,671.18 70.97,671.19 71.39,671.2C71.8,671.21 72.22,671.22 72.63,671.23C73.05,671.23 73.46,671.24 73.88,671.25C74.29,671.26 74.7,671.27 75.12,671.27C75.54,671.28 75.95,671.29 76.37,671.3C76.78,671.31 77.19,671.32 77.61,671.32C78.03,671.33 78.44,671.34 78.86,671.35C79.27,671.36 79.69,671.36 80.1,671.37C80.51,671.38 80.93,671.39 81.34,671.39C81.76,671.4 82.17,671.41 82.59,671.41C83.01,671.42 83.42,671.43 83.84,671.43C84.25,671.44 84.67,671.44 85.08,671.45C85.5,671.45 85.91,671.46 86.33,671.46C86.74,671.47 87.16,671.47 87.57,671.48C87.99,671.48 88.4,671.48 88.81,671.49C89.23,671.49 89.64,671.49 90.06,671.49C90.48,671.5 90.89,671.5 91.31,671.5C91.72,671.5 92.14,671.5 92.55,671.5C92.97,671.5 93.38,671.5 93.8,671.51C94.21,671.52 94.62,671.53 95.04,671.54C95.46,671.55 95.87,671.57 96.28,671.58C96.7,671.6 97.11,671.62 97.53,671.64C97.95,671.66 98.36,671.68 98.78,671.7C99.19,671.73 99.61,671.75 100.02,671.78C100.44,671.8 100.85,671.83 101.27,671.85C101.68,671.87 102.09,671.9 102.51,671.92C102.93,671.95 103.34,671.97 103.76,672C104.17,672.02 104.59,672.04 105,672.06C105.41,672.08 105.83,672.1 106.25,672.12C106.66,672.13 107.08,672.15 107.49,672.16C107.91,672.17 108.32,672.18 108.74,672.19C109.15,672.2 109.56,672.2 109.98,672.2C110.4,672.2 110.81,672.2 111.23,672.2C111.64,672.2 112.06,672.19 112.47,672.19C112.88,672.19 113.3,672.19 113.72,672.18C114.13,672.18 114.55,672.17 114.96,672.17C115.38,672.16 115.79,672.16 116.21,672.15C116.62,672.15 117.04,672.14 117.45,672.14C117.87,672.13 118.28,672.12 118.7,672.12C119.11,672.11 119.53,672.11 119.94,672.1C120.36,672.09 120.77,672.09 121.19,672.08C121.6,672.08 122.02,672.07 122.43,672.06C122.85,672.06 123.26,672.05 123.68,672.05C124.09,672.04 124.51,672.04 124.92,672.03C125.34,672.03 125.75,672.02 126.17,672.02C126.58,672.01 127,672.01 127.41,672.01C127.83,672.01 128.24,672 128.66,672C129.07,672 129.49,672 129.9,672C130.31,672 130.73,672 131.15,672C131.56,672.01 131.97,672.01 132.39,672.01C132.8,672.02 133.22,672.02 133.63,672.03C134.05,672.03 134.47,672.04 134.88,672.05C135.29,672.06 135.71,672.06 136.12,672.07C136.54,672.08 136.96,672.09 137.37,672.1C137.78,672.11 138.2,672.13 138.62,672.14C139.03,672.15 139.45,672.16 139.86,672.18C140.28,672.19 140.69,672.2 141.11,672.22C141.52,672.23 141.94,672.24 142.35,672.26C142.77,672.27 143.18,672.29 143.59,672.3C144.01,672.32 144.43,672.34 144.84,672.35C145.25,672.37 145.67,672.38 146.09,672.4C146.5,672.42 146.92,672.43 147.33,672.45C147.75,672.47 148.16,672.48 148.57,672.5C148.99,672.52 149.41,672.53 149.82,672.55C150.23,672.57 150.65,672.58 151.06,672.6C151.48,672.62 151.9,672.63 152.31,672.65C152.72,672.66 153.14,672.68 153.56,672.7C153.97,672.71 154.39,672.73 154.8,672.74C155.22,672.76 155.63,672.77 156.05,672.78C156.46,672.8 156.88,672.81 157.29,672.82C157.71,672.84 158.12,672.85 158.54,672.86C158.95,672.87 159.37,672.89 159.78,672.9C160.19,672.91 160.61,672.92 161.03,672.93C161.44,672.94 161.86,672.94 162.27,672.95C162.69,672.96 163.1,672.97 163.52,672.97C163.93,672.98 164.34,672.98 164.76,672.99C165.17,672.99 165.59,672.99 166,673C166.42,673 166.84,673 167.25,673C167.66,673 168.08,673 168.5,673C168.91,673 169.33,672.99 169.74,672.99C170.16,672.99 170.57,672.98 170.99,672.98C171.4,672.97 171.82,672.97 172.23,672.96C172.65,672.95 173.06,672.95 173.48,672.94C173.89,672.93 174.31,672.93 174.72,672.92C175.14,672.91 175.55,672.9 175.97,672.89C176.38,672.88 176.8,672.87 177.21,672.86C177.62,672.85 178.04,672.84 178.46,672.83C178.87,672.82 179.29,672.8 179.7,672.79C180.12,672.78 180.53,672.77 180.94,672.76C181.36,672.74 181.78,672.73 182.19,672.72C182.6,672.71 183.02,672.69 183.44,672.68C183.85,672.67 184.27,672.65 184.68,672.64C185.09,672.63 185.51,672.61 185.93,672.6C186.34,672.59 186.76,672.57 187.17,672.56C187.59,672.55 188,672.53 188.42,672.52C188.83,672.51 189.25,672.49 189.66,672.48C190.08,672.47 190.49,672.46 190.91,672.44C191.32,672.43 191.74,672.42 192.15,672.41C192.57,672.4 192.98,672.38 193.39,672.37C193.81,672.36 194.23,672.35 194.64,672.34C195.06,672.33 195.47,672.32 195.88,672.31C196.3,672.3 196.72,672.29 197.13,672.28C197.54,672.27 197.96,672.27 198.38,672.26C198.79,672.25 199.21,672.25 199.62,672.24C200.03,672.23 200.45,672.23 200.87,672.22C201.28,672.22 201.7,672.21 202.11,672.21C202.53,672.21 202.94,672.2 203.36,672.2C203.77,672.2 204.19,672.2 204.6,672.2C205.02,672.2 205.43,672.2 205.85,672.19C206.26,672.19 206.68,672.18 207.09,672.17C207.51,672.16 207.92,672.15 208.34,672.14C208.75,672.13 209.16,672.11 209.58,672.1C209.99,672.08 210.41,672.06 210.83,672.04C211.24,672.03 211.66,672 212.07,671.98C212.48,671.96 212.9,671.94 213.31,671.92C213.73,671.9 214.15,671.87 214.56,671.85C214.97,671.82 215.39,671.8 215.81,671.77C216.22,671.75 216.64,671.72 217.05,671.7C217.47,671.68 217.88,671.65 218.3,671.63C218.71,671.6 219.13,671.58 219.54,671.55C219.96,671.53 220.37,671.5 220.79,671.48C221.2,671.46 221.62,671.44 222.03,671.42C222.45,671.4 222.86,671.37 223.28,671.36C223.69,671.34 224.11,671.32 224.52,671.3C224.94,671.29 225.35,671.27 225.76,671.26C226.18,671.25 226.6,671.24 227.01,671.23C227.43,671.22 227.84,671.21 228.25,671.21C228.67,671.2 229.29,671.2 229.5,671.2" fill="none" stroke="#f01818" stroke-width="1.4" stroke-linejoin="round"/>
<path d="M55.2,672.69C55.41,672.69 56.03,672.69 56.45,672.69C56.86,672.69 57.28,672.69 57.69,672.69C58.11,672.69 58.52,672.69 58.94,672.69C59.35,672.69 59.77,672.69 60.18,672.69C60.6,672.68 61.01,672.68 61.43,672.68C61.84,672.68 62.26,672.68 62.67,672.68C63.09,672.68 63.5,672.68 63.92,672.67C64.33,672.67 64.75,672.67 65.16,672.67C65.57,672.67 65.99,672.67 66.41,672.66C66.82,672.66 67.23,672.66 67.65,672.66C68.07,672.66 68.48,672.65 68.9,672.65C69.31,672.65 69.72,672.65 70.14,672.65C70.56,672.64 70.97,672.64 71.39,672.64C71.8,672.63 72.22,672.63 72.63,672.63C73.05,672.63 73.46,672.62 73.88,672.62C74.29,672.62 74.7,672.61 75.12,672.61C75.54,672.61 75.95,672.6 76.37,672.6C76.78,672.59 77.19,672.59 77.61,672.59C78.03,672.58 78.44,672.58 78.86,672.57C79.27,672.57 79.69,672.56 80.1,672.56C80.51,672.55 80.93,672.55 81.34,672.54C81.76,672.54 82.17,672.53 82.59,672.53C83.01,672.52 83.42,672.51 83.84,672.51C84.25,672.5 84.67,672.49 85.08,672.49C85.5,672.48 85.91,672.47 86.33,672.47C86.74,672.46 87.16,672.45 87.57,672.44C87.99,672.43 88.4,672.42 88.81,672.42C89.23,672.41 89.64,672.4 90.06,672.39C90.48,672.38 90.89,672.37 91.31,672.36C91.72,672.35 92.14,672.34 92.55,672.32C92.97,672.31 93.38,672.3 93.8,672.29C94.21,672.28 94.62,672.26 95.04,672.25C95.46,672.24 95.87,672.22 96.28,672.21C96.7,672.19 97.11,672.18 97.53,672.16C97.95,672.15 98.36,672.13 98.78,672.11C99.19,672.09 99.61,672.08 100.02,672.06C100.44,672.04 100.85,672.02 101.27,672C101.68,671.98 102.09,671.95 102.51,671.93C102.93,671.91 103.34,671.89 103.76,671.86C104.17,671.84 104.59,671.81 105,671.78C105.41,671.75 105.83,671.73 106.25,671.7C106.66,671.66 107.08,671.63 107.49,671.6C107.91,671.57 108.32,671.53 108.74,671.49C109.15,671.46 109.56,671.42 109.98,671.38C110.4,671.34 110.81,671.3 111.23,671.25C111.64,671.2 112.06,671.16 112.47,671.11C112.88,671.06 113.3,671 113.72,670.95C114.13,670.89 114.55,670.83 114.96,670.77C115.38,670.71 115.79,670.64 116.21,670.57C116.62,670.5 117.04,670.43 117.45,670.35C117.87,670.27 118.28,670.19 118.7,670.1C119.11,670.01 119.53,669.91 119.94,669.81C120.36,669.71 120.77,669.61 121.19,669.49C121.6,669.38 122.02,669.26 122.43,669.13C122.85,669 123.26,668.86 123.68,668.71C124.09,668.56 124.51,668.4 124.92,668.23C125.34,668.07 125.75,667.89 126.17,667.69C126.58,667.5 127,667.29 127.41,667.07C127.83,666.84 128.24,666.61 128.66,666.35C129.07,666.09 129.49,665.82 129.9,665.53C130.31,665.23 130.73,664.92 131.15,664.59C131.56,664.25 131.97,663.89 132.39,663.51C132.8,663.13 133.22,662.72 133.63,662.29C134.05,661.86 134.47,661.41 134.88,660.93C135.29,660.46 135.71,659.96 136.12,659.45C136.54,658.94 136.96,658.4 137.37,657.87C137.78,657.35 138.2,656.8 138.62,656.28C139.03,655.76 139.45,655.24 139.86,654.78C140.28,654.31 140.69,653.86 141.11,653.5C141.52,653.14 141.94,652.82 142.35,652.61C142.77,652.39 143.18,652.25 143.59,652.22C144.01,652.18 144.43,652.25 144.84,652.4C145.25,652.55 145.67,652.8 146.09,653.12C146.5,653.43 146.92,653.84 147.33,654.27C147.75,654.7 148.16,655.21 148.57,655.72C148.99,656.22 149.41,656.77 149.82,657.3C150.23,657.83 150.65,658.38 151.06,658.91C151.48,659.43 151.9,659.96 152.31,660.45C152.72,660.95 153.14,661.43 153.56,661.88C153.97,662.33 154.39,662.76 154.8,663.17C155.22,663.57 155.63,663.95 156.05,664.31C156.46,664.67 156.88,665.01 157.29,665.32C157.71,665.64 158.12,665.93 158.54,666.2C158.95,666.48 159.37,666.73 159.78,666.98C160.19,667.22 160.61,667.44 161.03,667.65C161.44,667.86 161.86,668.05 162.27,668.24C162.69,668.42 163.1,668.59 163.52,668.75C163.93,668.91 164.34,669.06 164.76,669.21C165.17,669.35 165.59,669.48 166,669.6C166.42,669.73 166.84,669.85 167.25,669.96C167.66,670.07 168.08,670.17 168.5,670.27C168.91,670.37 169.33,670.46 169.74,670.55C170.16,670.64 170.57,670.72 170.99,670.8C171.4,670.87 171.82,670.95 172.23,671.02C172.65,671.09 173.06,671.16 173.48,671.22C173.89,671.28 174.31,671.34 174.72,671.4C175.14,671.46 175.55,671.51 175.97,671.56C176.38,671.61 176.8,671.66 177.21,671.71C177.62,671.76 178.04,671.8 178.46,671.85C178.87,671.89 179.29,671.94 179.7,671.97C180.12,672.01 180.53,672.04 180.94,672.06C181.36,672.08 181.78,672.1 182.19,672.1C182.6,672.09 183.02,671.94 183.44,672.03C183.85,672.12 184.27,672.62 184.68,672.63C185.09,672.64 185.51,672.13 185.93,672.11C186.34,672.09 186.76,672.4 187.17,672.53C187.59,672.66 188,672.91 188.42,672.88C188.83,672.85 189.25,672.39 189.66,672.37C190.08,672.36 190.49,672.69 190.91,672.77C191.32,672.85 191.74,672.91 192.15,672.87C192.57,672.83 192.98,672.53 193.39,672.52C193.81,672.51 194.23,672.72 194.64,672.81C195.06,672.9 195.47,673.06 195.88,673.08C196.3,673.11 196.72,672.94 197.13,672.95C197.54,672.97 197.96,673.21 198.38,673.19C198.79,673.17 199.21,672.88 199.62,672.83C200.03,672.79 200.45,672.92 200.87,672.93C201.28,672.93 201.7,672.83 202.11,672.87C202.53,672.92 202.94,673.08 203.36,673.19C203.77,673.29 204.19,673.49 204.6,673.51C205.02,673.53 205.43,673.32 205.85,673.31C206.26,673.3 206.68,673.48 207.09,673.47C207.51,673.46 207.92,673.22 208.34,673.23C208.75,673.23 209.16,673.53 209.58,673.51C209.99,673.48 210.41,673.13 210.83,673.08C211.24,673.04 211.66,673.17 212.07,673.24C212.48,673.32 212.9,673.48 213.31,673.53C213.73,673.59 214.15,673.62 214.56,673.59C214.97,673.57 215.39,673.47 215.81,673.41C216.22,673.34 216.64,673.2 217.05,673.19C217.47,673.18 217.88,673.32 218.3,673.34C218.71,673.36 219.13,673.31 219.54,673.32C219.96,673.33 220.37,673.32 220.79,673.39C221.2,673.47 221.62,673.78 222.03,673.78C222.45,673.78 222.86,673.36 223.28,673.37C223.69,673.39 224.11,673.79 224.52,673.87C224.94,673.96 225.35,673.98 225.76,673.89C226.18,673.8 226.6,673.38 227.01,673.33C227.43,673.27 227.84,673.51 228.25,673.57C228.67,673.63 229.29,673.65 229.5,673.67" fill="none" stroke="#1010ee" stroke-width="1.6" stroke-linejoin="round"/>
<path d="M55.2,672.63C55.41,672.63 56.03,672.63 56.45,672.63C56.86,672.63 57.28,672.63 57.69,672.63C58.11,672.62 58.52,672.62 58.94,672.62C59.35,672.62 59.77,672.62 60.18,672.62C60.6,672.62 61.01,672.61 61.43,672.61C61.84,672.61 62.26,672.61 62.67,672.61C63.09,672.6 63.5,672.6 63.92,672.6C64.33,672.6 64.75,672.6 65.16,672.59C65.57,672.59 65.99,672.59 66.41,672.59C66.82,672.58 67.23,672.58 67.65,672.58C68.07,672.57 68.48,672.57 68.9,672.57C69.31,672.57 69.72,672.56 70.14,672.56C70.56,672.56 70.97,672.55 71.39,672.55C71.8,672.54 72.22,672.54 72.63,672.54C73.05,672.53 73.46,672.53 73.88,672.52C74.29,672.52 74.7,672.52 75.12,672.51C75.54,672.51 75.95,672.5 76.37,672.5C76.78,672.49 77.19,672.49 77.61,672.48C78.03,672.48 78.44,672.47 78.86,672.46C79.27,672.46 79.69,672.45 80.1,672.45C80.51,672.44 80.93,672.43 81.34,672.43C81.76,672.42 82.17,672.41 82.59,672.4C83.01,672.4 83.42,672.39 83.84,672.38C84.25,672.37 84.67,672.36 85.08,672.36C85.5,672.35 85.91,672.34 86.33,672.33C86.74,672.32 87.16,672.31 87.57,672.3C87.99,672.29 88.4,672.28 88.81,672.27C89.23,672.26 89.64,672.25 90.06,672.23C90.48,672.22 90.89,672.21 91.31,672.2C91.72,672.19 92.14,672.17 92.55,672.16C92.97,672.14 93.38,672.13 93.8,672.12C94.21,672.1 94.62,672.08 95.04,672.07C95.46,672.05 95.87,672.04 96.28,672.02C96.7,672 97.11,671.98 97.53,671.96C97.95,671.94 98.36,671.92 98.78,671.9C99.19,671.88 99.61,671.86 100.02,671.84C100.44,671.82 100.85,671.79 101.27,671.77C101.68,671.74 102.09,671.72 102.51,671.69C102.93,671.66 103.34,671.64 103.76,671.61C104.17,671.58 104.59,671.55 105,671.51C105.41,671.48 105.83,671.45 106.25,671.41C106.66,671.38 107.08,671.34 107.49,671.3C107.91,671.26 108.32,671.22 108.74,671.18C109.15,671.14 109.56,671.09 109.98,671.04C110.4,671 110.81,670.95 111.23,670.89C111.64,670.84 112.06,670.79 112.47,670.73C112.88,670.67 113.3,670.61 113.72,670.54C114.13,670.48 114.55,670.41 114.96,670.34C115.38,670.27 115.79,670.19 116.21,670.11C116.62,670.03 117.04,669.95 117.45,669.86C117.87,669.77 118.28,669.67 118.7,669.57C119.11,669.47 119.53,669.36 119.94,669.24C120.36,669.13 120.77,669.01 121.19,668.88C121.6,668.75 122.02,668.61 122.43,668.47C122.85,668.32 123.26,668.16 123.68,667.99C124.09,667.83 124.51,667.65 124.92,667.46C125.34,667.27 125.75,667.06 126.17,666.84C126.58,666.62 127,666.39 127.41,666.14C127.83,665.89 128.24,665.62 128.66,665.33C129.07,665.05 129.49,664.74 129.9,664.41C130.31,664.08 130.73,663.73 131.15,663.35C131.56,662.97 131.97,662.56 132.39,662.13C132.8,661.7 133.22,661.24 133.63,660.75C134.05,660.26 134.47,659.74 134.88,659.19C135.29,658.64 135.71,658.06 136.12,657.47C136.54,656.87 136.96,656.24 137.37,655.6C137.78,654.96 138.2,654.3 138.62,653.65C139.03,653.01 139.45,652.34 139.86,651.73C140.28,651.12 140.69,650.51 141.11,649.98C141.52,649.46 141.94,648.97 142.35,648.59C142.77,648.22 143.18,647.91 143.59,647.73C144.01,647.55 144.43,647.48 144.84,647.53C145.25,647.58 145.67,647.75 146.09,648.02C146.5,648.28 146.92,648.68 147.33,649.13C147.75,649.57 148.16,650.13 148.57,650.7C148.99,651.27 149.41,651.91 149.82,652.55C150.23,653.19 150.65,653.86 151.06,654.51C151.48,655.16 151.9,655.82 152.31,656.45C152.72,657.08 153.14,657.69 153.56,658.28C153.97,658.86 154.39,659.42 154.8,659.95C155.22,660.48 155.63,660.98 156.05,661.45C156.46,661.93 156.88,662.37 157.29,662.78C157.71,663.2 158.12,663.58 158.54,663.95C158.95,664.31 159.37,664.65 159.78,664.97C160.19,665.29 160.61,665.58 161.03,665.86C161.44,666.14 161.86,666.39 162.27,666.64C162.69,666.88 163.1,667.1 163.52,667.32C163.93,667.53 164.34,667.73 164.76,667.91C165.17,668.1 165.59,668.27 166,668.44C166.42,668.6 166.84,668.75 167.25,668.9C167.66,669.04 168.08,669.18 168.5,669.31C168.91,669.43 169.33,669.55 169.74,669.67C170.16,669.78 170.57,669.89 170.99,669.99C171.4,670.09 171.82,670.19 172.23,670.28C172.65,670.37 173.06,670.46 173.48,670.54C173.89,670.62 174.31,670.7 174.72,670.77C175.14,670.84 175.55,670.91 175.97,670.98C176.38,671.05 176.8,671.11 177.21,671.17C177.62,671.23 178.04,671.29 178.46,671.34C178.87,671.4 179.29,671.51 179.7,671.5C180.12,671.5 180.53,671.28 180.94,671.31C181.36,671.35 181.78,671.58 182.19,671.73C182.6,671.87 183.02,672.18 183.44,672.18C183.85,672.19 184.27,671.74 184.68,671.74C185.09,671.74 185.51,672.15 185.93,672.18C186.34,672.22 186.76,671.92 187.17,671.95C187.59,671.97 188,672.24 188.42,672.35C188.83,672.47 189.25,672.68 189.66,672.66C190.08,672.64 190.49,672.33 190.91,672.25C191.32,672.17 191.74,672.18 192.15,672.19C192.57,672.2 192.98,672.22 193.39,672.31C193.81,672.39 194.23,672.68 194.64,672.69C195.06,672.7 195.47,672.42 195.88,672.38C196.3,672.35 196.72,672.41 197.13,672.49C197.54,672.56 197.96,672.71 198.38,672.83C198.79,672.94 199.21,673.17 199.62,673.17C200.03,673.18 200.45,672.92 200.87,672.87C201.28,672.83 201.7,672.86 202.11,672.9C202.53,672.94 202.94,673.13 203.36,673.11C203.77,673.09 204.19,672.76 204.6,672.77C205.02,672.78 205.43,673.13 205.85,673.15C206.26,673.17 206.68,672.89 207.09,672.9C207.51,672.92 207.92,673.14 208.34,673.24C208.75,673.34 209.16,673.57 209.58,673.52C209.99,673.47 210.41,672.96 210.83,672.92C211.24,672.88 211.66,673.23 212.07,673.3C212.48,673.37 212.9,673.4 213.31,673.37C213.73,673.33 214.15,673.1 214.56,673.07C214.97,673.04 215.39,673.08 215.81,673.18C216.22,673.29 216.64,673.63 217.05,673.72C217.47,673.81 217.88,673.84 218.3,673.75C218.71,673.65 219.13,673.18 219.54,673.16C219.96,673.13 220.37,673.49 220.79,673.59C221.2,673.69 221.62,673.83 222.03,673.79C222.45,673.74 222.86,673.34 223.28,673.31C223.69,673.27 224.11,673.61 224.52,673.59C224.94,673.58 225.35,673.24 225.76,673.21C226.18,673.19 226.6,673.38 227.01,673.46C227.43,673.54 227.84,673.66 228.25,673.7C228.67,673.73 229.29,673.66 229.5,673.66" fill="none" stroke="#8a1414" stroke-width="1.4" stroke-linejoin="round"/>
<path d="M55.2,672.54C55.41,672.54 56.03,672.54 56.45,672.54C56.86,672.54 57.28,672.53 57.69,672.53C58.11,672.53 58.52,672.53 58.94,672.53C59.35,672.52 59.77,672.52 60.18,672.52C60.6,672.52 61.01,672.51 61.43,672.51C61.84,672.51 62.26,672.5 62.67,672.5C63.09,672.5 63.5,672.5 63.92,672.49C64.33,672.49 64.75,672.49 65.16,672.48C65.57,672.48 65.99,672.48 66.41,672.47C66.82,672.47 67.23,672.46 67.65,672.46C68.07,672.46 68.48,672.45 68.9,672.45C69.31,672.44 69.72,672.44 70.14,672.43C70.56,672.43 70.97,672.42 71.39,672.42C71.8,672.41 72.22,672.41 72.63,672.4C73.05,672.4 73.46,672.39 73.88,672.39C74.29,672.38 74.7,672.38 75.12,672.37C75.54,672.36 75.95,672.36 76.37,672.35C76.78,672.34 77.19,672.34 77.61,672.33C78.03,672.32 78.44,672.31 78.86,672.31C79.27,672.3 79.69,672.29 80.1,672.28C80.51,672.27 80.93,672.27 81.34,672.26C81.76,672.25 82.17,672.24 82.59,672.23C83.01,672.22 83.42,672.21 83.84,672.2C84.25,672.19 84.67,672.18 85.08,672.17C85.5,672.16 85.91,672.15 86.33,672.13C86.74,672.12 87.16,672.11 87.57,672.1C87.99,672.08 88.4,672.07 88.81,672.06C89.23,672.04 89.64,672.03 90.06,672.01C90.48,672 90.89,671.98 91.31,671.97C91.72,671.95 92.14,671.94 92.55,671.92C92.97,671.9 93.38,671.88 93.8,671.86C94.21,671.85 94.62,671.83 95.04,671.81C95.46,671.79 95.87,671.77 96.28,671.74C96.7,671.72 97.11,671.7 97.53,671.68C97.95,671.65 98.36,671.63 98.78,671.6C99.19,671.58 99.61,671.55 100.02,671.52C100.44,671.5 100.85,671.47 101.27,671.44C101.68,671.41 102.09,671.37 102.51,671.34C102.93,671.31 103.34,671.28 103.76,671.24C104.17,671.2 104.59,671.17 105,671.13C105.41,671.09 105.83,671.05 106.25,671C106.66,670.96 107.08,670.92 107.49,670.87C107.91,670.82 108.32,670.77 108.74,670.72C109.15,670.67 109.56,670.62 109.98,670.56C110.4,670.5 110.81,670.44 111.23,670.38C111.64,670.32 112.06,670.25 112.47,670.18C112.88,670.11 113.3,670.04 113.72,669.96C114.13,669.89 114.55,669.8 114.96,669.72C115.38,669.63 115.79,669.54 116.21,669.45C116.62,669.35 117.04,669.25 117.45,669.14C117.87,669.04 118.28,668.92 118.7,668.8C119.11,668.68 119.53,668.56 119.94,668.42C120.36,668.29 120.77,668.14 121.19,667.99C121.6,667.84 122.02,667.68 122.43,667.51C122.85,667.33 123.26,667.15 123.68,666.95C124.09,666.76 124.51,666.55 124.92,666.33C125.34,666.1 125.75,665.87 126.17,665.61C126.58,665.35 127,665.08 127.41,664.79C127.83,664.5 128.24,664.19 128.66,663.85C129.07,663.52 129.49,663.16 129.9,662.78C130.31,662.39 130.73,661.98 131.15,661.54C131.56,661.1 131.97,660.63 132.39,660.12C132.8,659.62 133.22,659.08 133.63,658.5C134.05,657.93 134.47,657.32 134.88,656.67C135.29,656.02 135.71,655.34 136.12,654.62C136.54,653.9 136.96,653.14 137.37,652.36C137.78,651.58 138.2,650.77 138.62,649.95C139.03,649.14 139.45,648.29 139.86,647.49C140.28,646.69 140.69,645.86 141.11,645.13C141.52,644.39 141.94,643.67 142.35,643.07C142.77,642.47 143.18,641.93 143.59,641.55C144.01,641.17 144.43,640.9 144.84,640.79C145.25,640.67 145.67,640.71 146.09,640.88C146.5,641.05 146.92,641.39 147.33,641.83C147.75,642.26 148.16,642.85 148.57,643.48C148.99,644.12 149.41,644.87 149.82,645.63C150.23,646.39 150.65,647.23 151.06,648.05C151.48,648.86 151.9,649.71 152.31,650.52C152.72,651.34 153.14,652.15 153.56,652.92C153.97,653.69 154.39,654.44 154.8,655.15C155.22,655.86 155.63,656.54 156.05,657.18C156.46,657.82 156.88,658.42 157.29,658.98C157.71,659.55 158.12,660.08 158.54,660.57C158.95,661.07 159.37,661.53 159.78,661.97C160.19,662.4 160.61,662.8 161.03,663.18C161.44,663.56 161.86,663.91 162.27,664.25C162.69,664.58 163.1,664.88 163.52,665.17C163.93,665.46 164.34,665.73 164.76,665.98C165.17,666.24 165.59,666.47 166,666.7C166.42,666.92 166.84,667.12 167.25,667.32C167.66,667.52 168.08,667.7 168.5,667.87C168.91,668.05 169.33,668.21 169.74,668.36C170.16,668.52 170.57,668.66 170.99,668.8C171.4,668.93 171.82,669.06 172.23,669.18C172.65,669.31 173.06,669.42 173.48,669.53C173.89,669.64 174.31,669.74 174.72,669.84C175.14,669.94 175.55,670.03 175.97,670.12C176.38,670.21 176.8,670.29 177.21,670.37C177.62,670.45 178.04,670.53 178.46,670.6C178.87,670.68 179.29,670.71 179.7,670.81C180.12,670.91 180.53,671.18 180.94,671.19C181.36,671.21 181.78,670.88 182.19,670.89C182.6,670.89 183.02,671.09 183.44,671.23C183.85,671.37 184.27,671.66 184.68,671.74C185.09,671.81 185.51,671.68 185.93,671.67C186.34,671.67 186.76,671.69 187.17,671.71C187.59,671.73 188,671.69 188.42,671.79C188.83,671.89 189.25,672.25 189.66,672.3C190.08,672.36 190.49,672.2 190.91,672.11C191.32,672.03 191.74,671.76 192.15,671.82C192.57,671.87 192.98,672.39 193.39,672.45C193.81,672.52 194.23,672.22 194.64,672.2C195.06,672.19 195.47,672.34 195.88,672.35C196.3,672.36 196.72,672.25 197.13,672.27C197.54,672.29 197.96,672.46 198.38,672.5C198.79,672.53 199.21,672.5 199.62,672.48C200.03,672.46 200.45,672.32 200.87,672.37C201.28,672.43 201.7,672.79 202.11,672.81C202.53,672.83 202.94,672.46 203.36,672.49C203.77,672.53 204.19,673.01 204.6,673.02C205.02,673.03 205.43,672.52 205.85,672.54C206.26,672.55 206.68,673 207.09,673.11C207.51,673.22 207.92,673.19 208.34,673.17C208.75,673.15 209.16,673 209.58,673C209.99,673 210.41,673.2 210.83,673.19C211.24,673.17 211.66,672.88 212.07,672.9C212.48,672.92 212.9,673.25 213.31,673.28C213.73,673.31 214.15,673.14 214.56,673.1C214.97,673.05 215.39,672.92 215.81,672.99C216.22,673.07 216.64,673.51 217.05,673.54C217.47,673.57 217.88,673.23 218.3,673.17C218.71,673.12 219.13,673.12 219.54,673.18C219.96,673.25 220.37,673.55 220.79,673.55C221.2,673.56 221.62,673.25 222.03,673.24C222.45,673.23 222.86,673.49 223.28,673.47C223.69,673.46 224.11,673.12 224.52,673.15C224.94,673.18 225.35,673.63 225.76,673.65C226.18,673.67 226.6,673.35 227.01,673.26C227.43,673.18 227.84,673.05 228.25,673.14C228.67,673.23 229.29,673.7 229.5,673.81" fill="none" stroke="#10cc10" stroke-width="1.4" stroke-linejoin="round"/>
<path d="M55.2,672.11C55.41,672.1 56.03,672.09 56.45,672.09C56.86,672.08 57.28,672.08 57.69,672.07C58.11,672.06 58.52,672.06 58.94,672.05C59.35,672.04 59.77,672.04 60.18,672.03C60.6,672.02 61.01,672.01 61.43,672.01C61.84,672 62.26,671.99 62.67,671.98C63.09,671.98 63.5,671.97 63.92,671.96C64.33,671.95 64.75,671.94 65.16,671.93C65.57,671.92 65.99,671.91 66.41,671.9C66.82,671.89 67.23,671.88 67.65,671.87C68.07,671.86 68.48,671.85 68.9,671.84C69.31,671.83 69.72,671.82 70.14,671.81C70.56,671.8 70.97,671.79 71.39,671.78C71.8,671.76 72.22,671.75 72.63,671.74C73.05,671.73 73.46,671.71 73.88,671.7C74.29,671.69 74.7,671.67 75.12,671.66C75.54,671.64 75.95,671.63 76.37,671.61C76.78,671.6 77.19,671.58 77.61,671.57C78.03,671.55 78.44,671.53 78.86,671.52C79.27,671.5 79.69,671.48 80.1,671.46C80.51,671.44 80.93,671.43 81.34,671.41C81.76,671.39 82.17,671.37 82.59,671.35C83.01,671.33 83.42,671.3 83.84,671.28C84.25,671.26 84.67,671.24 85.08,671.21C85.5,671.19 85.91,671.17 86.33,671.14C86.74,671.12 87.16,671.09 87.57,671.06C87.99,671.04 88.4,671.01 88.81,670.98C89.23,670.95 89.64,670.92 90.06,670.89C90.48,670.86 90.89,670.83 91.31,670.79C91.72,670.76 92.14,670.73 92.55,670.69C92.97,670.66 93.38,670.62 93.8,670.58C94.21,670.54 94.62,670.5 95.04,670.46C95.46,670.42 95.87,670.38 96.28,670.34C96.7,670.29 97.11,670.25 97.53,670.2C97.95,670.15 98.36,670.1 98.78,670.05C99.19,670 99.61,669.95 100.02,669.89C100.44,669.84 100.85,669.78 101.27,669.72C101.68,669.66 102.09,669.6 102.51,669.53C102.93,669.47 103.34,669.4 103.76,669.33C104.17,669.26 104.59,669.18 105,669.1C105.41,669.03 105.83,668.95 106.25,668.86C106.66,668.78 107.08,668.69 107.49,668.6C107.91,668.51 108.32,668.41 108.74,668.31C109.15,668.21 109.56,668.1 109.98,667.99C110.4,667.88 110.81,667.77 111.23,667.64C111.64,667.52 112.06,667.39 112.47,667.26C112.88,667.13 113.3,666.98 113.72,666.84C114.13,666.69 114.55,666.53 114.96,666.37C115.38,666.2 115.79,666.03 116.21,665.84C116.62,665.66 117.04,665.47 117.45,665.26C117.87,665.06 118.28,664.84 118.7,664.61C119.11,664.38 119.53,664.14 119.94,663.88C120.36,663.62 120.77,663.35 121.19,663.06C121.6,662.77 122.02,662.47 122.43,662.14C122.85,661.81 123.26,661.46 123.68,661.09C124.09,660.72 124.51,660.33 124.92,659.9C125.34,659.48 125.75,659.03 126.17,658.55C126.58,658.07 127,657.56 127.41,657.01C127.83,656.45 128.24,655.87 128.66,655.24C129.07,654.61 129.49,653.94 129.9,653.21C130.31,652.49 130.73,651.72 131.15,650.89C131.56,650.05 131.97,649.17 132.39,648.22C132.8,647.27 133.22,646.26 133.63,645.17C134.05,644.09 134.47,642.93 134.88,641.7C135.29,640.48 135.71,639.17 136.12,637.8C136.54,636.43 136.96,634.98 137.37,633.48C137.78,631.98 138.2,630.39 138.62,628.8C139.03,627.21 139.45,625.54 139.86,623.92C140.28,622.31 140.69,620.64 141.11,619.11C141.52,617.58 141.94,616.04 142.35,614.73C142.77,613.42 143.18,612.18 143.59,611.24C144.01,610.29 144.43,609.52 144.84,609.07C145.25,608.63 145.67,608.44 146.09,608.56C146.5,608.67 146.92,609.11 147.33,609.77C147.75,610.43 148.16,611.42 148.57,612.53C148.99,613.64 149.41,615.02 149.82,616.45C150.23,617.87 150.65,619.48 151.06,621.07C151.48,622.65 151.9,624.34 152.31,625.96C152.72,627.58 153.14,629.23 153.56,630.79C153.97,632.36 154.39,633.9 154.8,635.36C155.22,636.81 155.63,638.21 156.05,639.53C156.46,640.85 156.88,642.1 157.29,643.27C157.71,644.45 158.12,645.55 158.54,646.58C158.95,647.62 159.37,648.58 159.78,649.49C160.19,650.4 160.61,651.24 161.03,652.03C161.44,652.82 161.86,653.55 162.27,654.25C162.69,654.94 163.1,655.57 163.52,656.18C163.93,656.78 164.34,657.34 164.76,657.87C165.17,658.39 165.59,658.88 166,659.34C166.42,659.81 166.84,660.24 167.25,660.64C167.66,661.05 168.08,661.43 168.5,661.79C168.91,662.14 169.33,662.48 169.74,662.8C170.16,663.11 170.57,663.41 170.99,663.69C171.4,663.97 171.82,664.24 172.23,664.49C172.65,664.74 173.06,664.97 173.48,665.2C173.89,665.42 174.31,665.63 174.72,665.83C175.14,666.03 175.55,666.22 175.97,666.4C176.38,666.59 176.8,666.76 177.21,666.92C177.62,667.08 178.04,667.24 178.46,667.38C178.87,667.53 179.29,667.71 179.7,667.81C180.12,667.9 180.53,667.79 180.94,667.96C181.36,668.14 181.78,668.65 182.19,668.85C182.6,669.06 183.02,669.14 183.44,669.2C183.85,669.26 184.27,669.25 184.68,669.23C185.09,669.21 185.51,669.06 185.93,669.08C186.34,669.1 186.76,669.26 187.17,669.36C187.59,669.46 188,669.58 188.42,669.69C188.83,669.81 189.25,669.92 189.66,670.03C190.08,670.15 190.49,670.25 190.91,670.38C191.32,670.51 191.74,670.79 192.15,670.81C192.57,670.84 192.98,670.6 193.39,670.56C193.81,670.51 194.23,670.49 194.64,670.56C195.06,670.64 195.47,670.96 195.88,671.01C196.3,671.05 196.72,670.86 197.13,670.85C197.54,670.84 197.96,670.85 198.38,670.94C198.79,671.03 199.21,671.28 199.62,671.39C200.03,671.5 200.45,671.62 200.87,671.6C201.28,671.58 201.7,671.26 202.11,671.27C202.53,671.27 202.94,671.53 203.36,671.64C203.77,671.75 204.19,671.84 204.6,671.91C205.02,671.98 205.43,672.05 205.85,672.04C206.26,672.04 206.68,671.82 207.09,671.86C207.51,671.9 207.92,672.29 208.34,672.3C208.75,672.3 209.16,671.87 209.58,671.87C209.99,671.88 210.41,672.23 210.83,672.33C211.24,672.42 211.66,672.39 212.07,672.43C212.48,672.48 212.9,672.59 213.31,672.58C213.73,672.57 214.15,672.44 214.56,672.37C214.97,672.3 215.39,672.19 215.81,672.15C216.22,672.12 216.64,672.11 217.05,672.18C217.47,672.24 217.88,672.53 218.3,672.57C218.71,672.6 219.13,672.34 219.54,672.37C219.96,672.4 220.37,672.73 220.79,672.74C221.2,672.75 221.62,672.37 222.03,672.41C222.45,672.44 222.86,672.91 223.28,672.94C223.69,672.97 224.11,672.67 224.52,672.6C224.94,672.52 225.35,672.48 225.76,672.49C226.18,672.5 226.6,672.58 227.01,672.65C227.43,672.71 227.84,672.83 228.25,672.88C228.67,672.94 229.29,672.98 229.5,672.99" fill="none" stroke="#ff22ff" stroke-width="1.6" stroke-linejoin="round"/>
<path d="M55.2,671.44C55.41,671.44 56.03,671.42 56.45,671.41C56.86,671.4 57.28,671.38 57.69,671.37C58.11,671.36 58.52,671.34 58.94,671.33C59.35,671.32 59.77,671.3 60.18,671.29C60.6,671.28 61.01,671.26 61.43,671.25C61.84,671.23 62.26,671.22 62.67,671.2C63.09,671.19 63.5,671.17 63.92,671.15C64.33,671.14 64.75,671.12 65.16,671.1C65.57,671.09 65.99,671.07 66.41,671.05C66.82,671.03 67.23,671.01 67.65,670.99C68.07,670.97 68.48,670.95 68.9,670.93C69.31,670.91 69.72,670.89 70.14,670.87C70.56,670.85 70.97,670.83 71.39,670.81C71.8,670.78 72.22,670.76 72.63,670.74C73.05,670.71 73.46,670.69 73.88,670.66C74.29,670.64 74.7,670.61 75.12,670.59C75.54,670.56 75.95,670.53 76.37,670.51C76.78,670.48 77.19,670.45 77.61,670.42C78.03,670.39 78.44,670.36 78.86,670.33C79.27,670.3 79.69,670.27 80.1,670.23C80.51,670.2 80.93,670.16 81.34,670.13C81.76,670.09 82.17,670.06 82.59,670.02C83.01,669.98 83.42,669.95 83.84,669.91C84.25,669.87 84.67,669.82 85.08,669.78C85.5,669.74 85.91,669.7 86.33,669.65C86.74,669.61 87.16,669.56 87.57,669.51C87.99,669.47 88.4,669.42 88.81,669.36C89.23,669.31 89.64,669.26 90.06,669.21C90.48,669.15 90.89,669.1 91.31,669.04C91.72,668.98 92.14,668.92 92.55,668.86C92.97,668.79 93.38,668.73 93.8,668.66C94.21,668.6 94.62,668.53 95.04,668.46C95.46,668.38 95.87,668.31 96.28,668.23C96.7,668.16 97.11,668.08 97.53,667.99C97.95,667.91 98.36,667.83 98.78,667.74C99.19,667.65 99.61,667.55 100.02,667.46C100.44,667.36 100.85,667.26 101.27,667.16C101.68,667.05 102.09,666.95 102.51,666.83C102.93,666.72 103.34,666.6 103.76,666.48C104.17,666.36 104.59,666.23 105,666.1C105.41,665.97 105.83,665.83 106.25,665.68C106.66,665.54 107.08,665.39 107.49,665.23C107.91,665.07 108.32,664.91 108.74,664.73C109.15,664.56 109.56,664.38 109.98,664.19C110.4,664 110.81,663.8 111.23,663.6C111.64,663.39 112.06,663.17 112.47,662.94C112.88,662.71 113.3,662.47 113.72,662.22C114.13,661.96 114.55,661.7 114.96,661.42C115.38,661.14 115.79,660.85 116.21,660.53C116.62,660.22 117.04,659.9 117.45,659.55C117.87,659.2 118.28,658.84 118.7,658.45C119.11,658.06 119.53,657.66 119.94,657.22C120.36,656.79 120.77,656.33 121.19,655.84C121.6,655.35 122.02,654.84 122.43,654.29C122.85,653.73 123.26,653.15 123.68,652.53C124.09,651.91 124.51,651.25 124.92,650.54C125.34,649.83 125.75,649.08 126.17,648.28C126.58,647.47 127,646.62 127.41,645.7C127.83,644.78 128.24,643.8 128.66,642.75C129.07,641.69 129.49,640.58 129.9,639.37C130.31,638.16 130.73,636.88 131.15,635.49C131.56,634.11 131.97,632.64 132.39,631.05C132.8,629.46 133.22,627.77 133.63,625.96C134.05,624.14 134.47,622.22 134.88,620.16C135.29,618.1 135.71,615.91 136.12,613.59C136.54,611.28 136.96,608.83 137.37,606.27C137.78,603.72 138.2,601.02 138.62,598.27C139.03,595.52 139.45,592.63 139.86,589.79C140.28,586.94 140.69,583.99 141.11,581.2C141.52,578.42 141.94,575.6 142.35,573.1C142.77,570.6 143.18,568.18 143.59,566.23C144.01,564.28 144.43,562.55 144.84,561.4C145.25,560.24 145.67,559.48 146.09,559.28C146.5,559.09 146.92,559.42 147.33,560.21C147.75,561 148.16,562.37 148.57,564.03C148.99,565.7 149.41,567.88 149.82,570.2C150.23,572.51 150.65,575.22 151.06,577.92C151.48,580.62 151.9,583.56 152.31,586.41C152.72,589.25 153.14,592.19 153.56,595C153.97,597.8 154.39,600.6 154.8,603.24C155.22,605.89 155.63,608.45 156.05,610.87C156.46,613.28 156.88,615.58 157.29,617.75C157.71,619.92 158.12,621.95 158.54,623.87C158.95,625.78 159.37,627.57 159.78,629.25C160.19,630.93 160.61,632.49 161.03,633.96C161.44,635.43 161.86,636.78 162.27,638.06C162.69,639.35 163.1,640.53 163.52,641.65C163.93,642.77 164.34,643.8 164.76,644.78C165.17,645.75 165.59,646.66 166,647.51C166.42,648.37 166.84,649.16 167.25,649.91C167.66,650.66 168.08,651.36 168.5,652.02C168.91,652.68 169.33,653.29 169.74,653.88C170.16,654.46 170.57,655.01 170.99,655.52C171.4,656.04 171.82,656.52 172.23,656.98C172.65,657.44 173.06,657.88 173.48,658.29C173.89,658.7 174.31,659.08 174.72,659.45C175.14,659.82 175.55,660.16 175.97,660.49C176.38,660.82 176.8,661.13 177.21,661.43C177.62,661.73 178.04,662.01 178.46,662.28C178.87,662.55 179.29,662.81 179.7,663.04C180.12,663.27 180.53,663.48 180.94,663.66C181.36,663.84 181.78,663.93 182.19,664.14C182.6,664.35 183.02,664.66 183.44,664.94C183.85,665.21 184.27,665.61 184.68,665.79C185.09,665.96 185.51,665.83 185.93,665.98C186.34,666.14 186.76,666.63 187.17,666.71C187.59,666.8 188,666.35 188.42,666.48C188.83,666.62 189.25,667.32 189.66,667.54C190.08,667.76 190.49,667.75 190.91,667.81C191.32,667.87 191.74,667.84 192.15,667.9C192.57,667.96 192.98,668.09 193.39,668.18C193.81,668.28 194.23,668.34 194.64,668.47C195.06,668.61 195.47,668.97 195.88,669C196.3,669.02 196.72,668.6 197.13,668.65C197.54,668.7 197.96,669.15 198.38,669.28C198.79,669.41 199.21,669.39 199.62,669.42C200.03,669.45 200.45,669.37 200.87,669.45C201.28,669.54 201.7,669.83 202.11,669.94C202.53,670.05 202.94,670.13 203.36,670.11C203.77,670.1 204.19,669.79 204.6,669.85C205.02,669.9 205.43,670.33 205.85,670.42C206.26,670.51 206.68,670.37 207.09,670.4C207.51,670.42 207.92,670.49 208.34,670.56C208.75,670.63 209.16,670.8 209.58,670.8C209.99,670.79 210.41,670.48 210.83,670.51C211.24,670.55 211.66,670.94 212.07,671.02C212.48,671.09 212.9,670.9 213.31,670.97C213.73,671.04 214.15,671.41 214.56,671.43C214.97,671.45 215.39,671.05 215.81,671.08C216.22,671.11 216.64,671.5 217.05,671.59C217.47,671.68 217.88,671.61 218.3,671.62C218.71,671.63 219.13,671.59 219.54,671.64C219.96,671.68 220.37,671.94 220.79,671.9C221.2,671.86 221.62,671.4 222.03,671.39C222.45,671.38 222.86,671.77 223.28,671.86C223.69,671.95 224.11,671.91 224.52,671.95C224.94,671.98 225.35,672.06 225.76,672.06C226.18,672.06 226.6,671.99 227.01,671.94C227.43,671.89 227.84,671.78 228.25,671.77C228.67,671.77 229.29,671.89 229.5,671.92" fill="none" stroke="#000" stroke-width="1.4" stroke-linejoin="round"/>
<line x1="59.5" y1="546" x2="76.9" y2="546" stroke="#f01818" stroke-width="1.7"/>
<text x="79.2" y="548.3" font-size="7.6">Pristine PIB</text>
<line x1="59.5" y1="556.1" x2="76.9" y2="556.1" stroke="#1010ee" stroke-width="1.7"/>
<text x="79.2" y="558.4" font-size="7.6"><tspan font-style="italic">h</tspan>-BN/PIB 2.5%</text>
<line x1="59.5" y1="566.2" x2="76.9" y2="566.2" stroke="#8a1414" stroke-width="1.7"/>
<text x="79.2" y="568.5" font-size="7.6"><tspan font-style="italic">h</tspan>-BN/PIB 5%</text>
<line x1="59.5" y1="576.3" x2="76.9" y2="576.3" stroke="#10cc10" stroke-width="1.7"/>
<text x="79.2" y="578.6" font-size="7.6"><tspan font-style="italic">h</tspan>-BN/PIB 10%</text>
<line x1="59.5" y1="586.4" x2="76.9" y2="586.4" stroke="#ff22ff" stroke-width="1.7"/>
<text x="79.2" y="588.7" font-size="7.6"><tspan font-style="italic">h</tspan>-BN/PIB 20%</text>
<line x1="59.5" y1="596.5" x2="76.9" y2="596.5" stroke="#000" stroke-width="1.7"/>
<text x="79.2" y="598.8" font-size="7.6"><tspan font-style="italic">h</tspan>-BN</text>
<text x="140.5" y="709.5" font-size="11.8" text-anchor="middle">Wavenumber (cm<tspan font-size="7" dy="-4.5">-1</tspan><tspan dy="4.5">)</tspan></text>
<text transform="translate(48.1,611.2) rotate(-90)" x="0" y="0" font-size="12.6" text-anchor="middle">Intensity (a.u.)</text>
<text x="10" y="548.2" font-size="19.5" fill="#000">g)</text>
<rect x="284.2" y="538" width="171.3" height="145.3" fill="none" stroke="#3e3e3e" stroke-width="1.15"/>
<path d="M327.02,683.3v-3M369.85,683.3v-3M412.68,683.3v-3" stroke="#3e3e3e" stroke-width="1" fill="none"/>
<path d="M305.61,683.3v-1.8M348.44,683.3v-1.8M391.26,683.3v-1.8M434.09,683.3v-1.8" stroke="#3e3e3e" stroke-width="1" fill="none"/>
<path d="M455.5,538V683.3H284.8" fill="none" stroke="#7a7a7a" stroke-width="1.3"/>
<text x="284.2" y="693.4" font-size="9" text-anchor="middle" font-weight="normal" fill="#000" >2700</text>
<text x="327.02" y="693.4" font-size="9" text-anchor="middle" font-weight="normal" fill="#000" >2800</text>
<text x="369.85" y="693.4" font-size="9" text-anchor="middle" font-weight="normal" fill="#000" >2900</text>
<text x="412.68" y="693.4" font-size="9" text-anchor="middle" font-weight="normal" fill="#000" >3000</text>
<text x="455.5" y="693.4" font-size="9" text-anchor="middle" font-weight="normal" fill="#000" >3100</text>
<path d="M284.2,644.8C284.67,644.5 286.05,643.45 287,643C287.95,642.55 288.72,642.02 289.9,642.1C291.08,642.18 292.28,642.77 294.1,643.5C295.92,644.23 298.98,645.83 300.8,646.5C302.62,647.17 303.87,647.3 305,647.5C306.13,647.7 306.75,647.95 307.6,647.7C308.45,647.45 309.32,646.98 310.1,646C310.88,645.02 311.65,642.37 312.3,641.8C312.95,641.23 313.38,642.27 314,642.6C314.62,642.93 314.55,643.1 316,643.8C317.45,644.5 320.45,645.95 322.7,646.8C324.95,647.65 327.53,648.55 329.5,648.9C331.47,649.25 332.82,649.25 334.5,648.9C336.18,648.55 338.2,647.77 339.6,646.8C341,645.83 341.65,644.08 342.9,643.1C344.15,642.12 345.97,641.82 347.1,640.9C348.23,639.98 349,638.85 349.7,637.6C350.4,636.35 350.8,634.67 351.3,633.4C351.8,632.13 352.17,631.9 352.7,630C353.23,628.1 353.87,625.17 354.5,622C355.13,618.83 355.87,614.17 356.5,611C357.13,607.83 357.55,606.83 358.3,603C359.05,599.17 360.15,592.2 361,588C361.85,583.8 362.57,580.72 363.4,577.8C364.23,574.88 365.17,572.4 366,570.5C366.83,568.6 367.57,567.73 368.4,566.4C369.23,565.07 370.15,563.9 371,562.5C371.85,561.1 372.73,559.23 373.5,558C374.27,556.77 374.93,555.18 375.6,555.1C376.27,555.02 376.8,555.85 377.5,557.5C378.2,559.15 379.13,562.25 379.8,565C380.47,567.75 380.93,571.25 381.5,574C382.07,576.75 382.53,579.42 383.2,581.5C383.87,583.58 384.73,585.38 385.5,586.5C386.27,587.62 387.13,587.78 387.8,588.2C388.47,588.62 388.92,588.62 389.5,589C390.08,589.38 390.63,589.67 391.3,590.5C391.97,591.33 392.73,592.72 393.5,594C394.27,595.28 395.07,597.23 395.9,598.2C396.73,599.17 397.53,599.53 398.5,599.8C399.47,600.07 400.78,599.6 401.7,599.8C402.62,600 403.23,600.42 404,601C404.77,601.58 405.63,602.3 406.3,603.3C406.97,604.3 407.42,605.08 408,607C408.58,608.92 409.13,611.8 409.8,614.8C410.47,617.8 411.23,621.52 412,625C412.77,628.48 413.57,632.7 414.4,635.7C415.23,638.7 416.03,640.88 417,643C417.97,645.12 419.12,646.82 420.2,648.4C421.28,649.98 422.33,651.33 423.5,652.5C424.67,653.67 425.95,654.73 427.2,655.4C428.45,656.07 429.85,656.23 431,656.5C432.15,656.77 431.77,656.92 434.1,657C436.43,657.08 441.43,657 445,657C448.57,657 453.75,657 455.5,657" fill="none" stroke="#f01818" stroke-width="1.4" stroke-linejoin="round"/>
<path d="M284.2,656.9C284.58,656.75 285.83,656.55 286.5,656C287.17,655.45 287.7,653.52 288.2,653.6C288.7,653.68 288.37,655.97 289.5,656.5C290.63,657.03 292.42,656.72 295,656.8C297.58,656.88 302.5,657.13 305,657C307.5,656.87 308.73,656.35 310,656C311.27,655.65 311.6,654.82 312.6,654.9C313.6,654.98 313.93,656.07 316,656.5C318.07,656.93 321.92,657.28 325,657.5C328.08,657.72 332.07,658.17 334.5,657.8C336.93,657.43 338.18,656.03 339.6,655.3C341.02,654.57 341.88,653.97 343,653.4C344.12,652.83 345.18,652.43 346.3,651.9C347.42,651.37 348.83,650.93 349.7,650.2C350.57,649.47 350.95,648.62 351.5,647.5C352.05,646.38 352.47,644.83 353,643.5C353.53,642.17 354.13,640.92 354.7,639.5C355.27,638.08 355.83,636.58 356.4,635C356.97,633.42 357.42,632.42 358.1,630C358.78,627.58 359.62,623.83 360.5,620.5C361.38,617.17 362.32,612.75 363.4,610C364.48,607.25 365.73,605.5 367,604C368.27,602.5 369.92,601.92 371,601C372.08,600.08 372.73,599.17 373.5,598.5C374.27,597.83 374.93,596.83 375.6,597C376.27,597.17 376.8,598.08 377.5,599.5C378.2,600.92 379.13,603.75 379.8,605.5C380.47,607.25 380.93,608.63 381.5,610C382.07,611.37 382.45,612.7 383.2,613.7C383.95,614.7 385.03,615.42 386,616C386.97,616.58 388,616.7 389,617.2C390,617.7 391,618.2 392,619C393,619.8 394.17,621.23 395,622C395.83,622.77 396,623.27 397,623.6C398,623.93 399.45,623.83 401,624C402.55,624.17 405.13,624.27 406.3,624.6C407.47,624.93 407.42,625.12 408,626C408.58,626.88 409.13,627.9 409.8,629.9C410.47,631.9 411.23,635.1 412,638C412.77,640.9 413.57,644.88 414.4,647.3C415.23,649.72 416.03,651.15 417,652.5C417.97,653.85 418.87,654.65 420.2,655.4C421.53,656.15 421.7,656.68 425,657C428.3,657.32 434.92,657.22 440,657.3C445.08,657.38 452.92,657.47 455.5,657.5" fill="none" stroke="#1010ee" stroke-width="1.6" stroke-linejoin="round"/>
<path d="M284.2,658.3C286.83,658.32 294.03,658.37 300,658.4C305.97,658.43 314.25,658.47 320,658.5C325.75,658.53 330.68,658.87 334.5,658.6C338.32,658.33 340.1,657.73 342.9,656.9C345.7,656.07 349.05,655 351.3,653.6C353.55,652.2 354.7,650.75 356.4,648.5C358.1,646.25 360.23,642.35 361.5,640.1C362.77,637.85 362.92,636.93 364,635C365.08,633.07 366.67,630.42 368,628.5C369.33,626.58 370.73,624.82 372,623.5C373.27,622.18 374.6,620.77 375.6,620.6C376.6,620.43 377.18,621.52 378,622.5C378.82,623.48 379.63,625.17 380.5,626.5C381.37,627.83 382.28,629.67 383.2,630.5C384.12,631.33 385.03,631.22 386,631.5C386.97,631.78 387.83,631.78 389,632.2C390.17,632.62 391.67,633.42 393,634C394.33,634.58 395.5,635.33 397,635.7C398.5,636.07 400.45,636.02 402,636.2C403.55,636.38 405.3,636.42 406.3,636.8C407.3,637.18 407.42,637.72 408,638.5C408.58,639.28 409.05,640.08 409.8,641.5C410.55,642.92 411.53,645.27 412.5,647C413.47,648.73 414.6,650.65 415.6,651.9C416.6,653.15 417.35,653.82 418.5,654.5C419.65,655.18 420.58,655.58 422.5,656C424.42,656.42 424.5,656.77 430,657C435.5,657.23 451.25,657.33 455.5,657.4" fill="none" stroke="#8a1414" stroke-width="1.4" stroke-linejoin="round"/>
<path d="M284.2,658.3C286.83,658.32 294.03,658.36 300,658.4C305.97,658.43 314.25,658.46 320,658.49C325.75,658.52 330.68,658.84 334.5,658.59C338.32,658.33 340.1,657.76 342.9,656.96C345.7,656.17 349.05,655.15 351.3,653.81C353.55,652.48 354.7,651.09 356.4,648.94C358.1,646.79 360.23,643.07 361.5,640.92C362.77,638.77 362.92,637.9 364,636.05C365.08,634.2 366.67,631.67 368,629.84C369.33,628.01 370.73,626.33 372,625.07C373.27,623.81 374.6,622.46 375.6,622.3C376.6,622.14 377.18,623.18 378,624.11C378.82,625.05 379.63,626.66 380.5,627.93C381.37,629.21 382.28,630.96 383.2,631.75C384.12,632.55 385.03,632.44 386,632.71C386.97,632.98 387.83,632.98 389,633.38C390.17,633.77 391.67,634.54 393,635.1C394.33,635.65 395.5,636.37 397,636.72C398.5,637.07 400.45,637.02 402,637.2C403.55,637.37 405.3,637.4 406.3,637.77C407.3,638.14 407.42,638.64 408,639.39C408.58,640.14 409.05,640.9 409.8,642.26C410.55,643.61 411.53,645.85 412.5,647.51C413.47,649.16 414.6,650.99 415.6,652.19C416.6,653.38 417.35,654.02 418.5,654.67C419.65,655.32 420.58,655.71 422.5,656.1C424.42,656.5 424.5,656.84 430,657.06C435.5,657.28 451.25,657.38 455.5,657.44" fill="none" stroke="#10cc10" stroke-width="1.4" stroke-linejoin="round"/>
<path d="M388.5,632.4 L388.9,629.4 L389.3,632.4" fill="none" stroke="#10cc10" stroke-width="1"/>
<path d="M284.2,658.3C286.83,658.32 294.03,658.36 300,658.39C305.97,658.42 314.25,658.45 320,658.48C325.75,658.51 330.68,658.81 334.5,658.57C338.32,658.33 340.1,657.79 342.9,657.03C345.7,656.27 349.05,655.31 351.3,654.04C353.55,652.77 354.7,651.45 356.4,649.41C358.1,647.37 360.23,643.83 361.5,641.79C362.77,639.75 362.92,638.92 364,637.16C365.08,635.41 366.67,633.01 368,631.27C369.33,629.53 370.73,627.93 372,626.73C373.27,625.54 374.6,624.25 375.6,624.1C376.6,623.95 377.18,624.93 378,625.82C378.82,626.72 379.63,628.24 380.5,629.45C381.37,630.66 382.28,632.32 383.2,633.08C384.12,633.84 385.03,633.73 386,633.99C386.97,634.25 387.83,634.25 389,634.62C390.17,635 391.67,635.73 393,636.26C394.33,636.79 395.5,637.47 397,637.8C398.5,638.13 400.45,638.09 402,638.25C403.55,638.42 405.3,638.45 406.3,638.8C407.3,639.14 407.42,639.63 408,640.34C408.58,641.05 409.05,641.77 409.8,643.06C410.55,644.34 411.53,646.48 412.5,648.05C413.47,649.62 414.6,651.36 415.6,652.49C416.6,653.63 417.35,654.23 418.5,654.85C419.65,655.47 420.58,655.84 422.5,656.21C424.42,656.59 424.5,656.91 430,657.12C435.5,657.33 451.25,657.42 455.5,657.48" fill="none" stroke="#ff22ff" stroke-width="1.8" stroke-linejoin="round"/>
<path d="M284.2,658.86 L285.1,659.45 L286,657.17 L286.9,657.06 L287.8,658.41 L288.7,659.91 L289.6,658.47 L290.5,656.77 L291.4,657.19 L292.3,657.97 L293.2,659.06 L294.1,658.02 L295,657.64 L295.9,657.79 L296.8,658.22 L297.7,657.23 L298.6,658.04 L299.5,658.32 L300.4,659.8 L301.3,657.97 L302.2,659.08 L303.1,656.92 L304,658.96 L304.9,658.21 L305.8,657.45 L306.7,658.01 L307.6,659.01 L308.5,657.69 L309.4,659.14 L310.3,659.68 L311.2,659.79 L312.1,659.78 L313,656.67 L313.9,658.4 L314.8,657.3 L315.7,659.06 L316.6,658.12 L317.5,658.28 L318.4,658.54 L319.3,657.4 L320.2,658.14 L321.1,657.26 L322,660.29 L322.9,657.55 L323.8,658.06 L324.7,656.13 L325.6,656.44 L326.5,657.14 L327.4,658.9 L328.3,658.87 L329.2,658.34 L330.1,657.35 L331,660.04 L331.9,656.93 L332.8,657.12 L333.7,658.56 L334.6,656.96 L335.5,658.33 L336.4,659.09 L337.3,657.96 L338.2,658.48 L339.1,658.08 L340,657.31 L340.9,655 L341.8,656.72 L342.7,658.03 L343.6,656.26 L344.5,657.43 L345.4,658.26 L346.3,659.48 L347.2,656.56 L348.1,657.47 L349,658.28 L349.9,658.61 L350.8,656.54 L351.7,660.05 L352.6,657.15 L353.5,659.22 L354.4,657.82 L355.3,658.48 L356.2,659.85 L357.1,658.81 L358,658.18 L358.9,656.95 L359.8,657.33 L360.7,656.49 L361.6,660.23 L362.5,656.35 L363.4,655.24 L364.3,659.82 L365.2,659.43 L366.1,657.65 L367,658.95 L367.9,657.14 L368.8,657.41 L369.7,658.58 L370.6,658.47 L371.5,657.54 L372.4,659.8 L373.3,658.84 L374.2,658.19 L375.1,656.75 L376,658.19 L376.9,657.69 L377.8,657.95 L378.7,658.91 L379.6,657.41 L380.5,658.33 L381.4,658.91 L382.3,658.42 L383.2,660.54 L384.1,656.13 L385,657.97 L385.9,656.74 L386.8,657.96 L387.7,660.78 L388.6,656.25 L389.5,657.72 L390.4,658.75 L391.3,658.13 L392.2,659.03 L393.1,656.33 L394,659.1 L394.9,656.99 L395.8,656.7 L396.7,658.65 L397.6,658.55 L398.5,657.23 L399.4,657.14 L400.3,657.81 L401.2,658.02 L402.1,657.84 L403,656.92 L403.9,655.49 L404.8,659.46 L405.7,658.22 L406.6,656.67 L407.5,656.31 L408.4,657.27 L409.3,657.57 L410.2,655.7 L411.1,659.55 L412,658.49 L412.9,657.67 L413.8,658.4 L414.7,658.27 L415.6,659.18 L416.5,658.19 L417.4,659.4 L418.3,659.71 L419.2,657.68 L420.1,657.53 L421,657.05 L421.9,657.77 L422.8,657.23 L423.7,658.03 L424.6,658.35 L425.5,658.61 L426.4,656.75 L427.3,659.2 L428.2,657.68 L429.1,657.9 L430,657.46 L430.9,655.83 L431.8,658.3 L432.7,656.08 L433.6,659.23 L434.5,658.06 L435.4,659.72 L436.3,658.73 L437.2,658.78 L438.1,659.55 L439,657.97 L439.9,659.7 L440.8,657.87 L441.7,658.3 L442.6,657.27 L443.5,658.61 L444.4,658.75 L445.3,657.46 L446.2,656.61 L447.1,657.97 L448,658.47 L448.9,657.84 L449.8,656.95 L450.7,657.22 L451.6,657.72 L452.5,655.14 L453.4,657.37 L454.3,659.59 L455.2,656.61" fill="none" stroke="#000" stroke-width="1.45" stroke-linejoin="round"/>
<line x1="287.2" y1="544.3" x2="303.4" y2="544.3" stroke="#f01818" stroke-width="1.4"/>
<text x="306" y="546.9" font-size="7.4">Pristine PIB</text>
<line x1="287.2" y1="553.8" x2="303.4" y2="553.8" stroke="#1010ee" stroke-width="2.0"/>
<text x="306" y="556.4" font-size="7.4"><tspan font-style="italic">h</tspan>-BN/PIB 2.5%</text>
<line x1="287.2" y1="563.3" x2="303.4" y2="563.3" stroke="#8a1414" stroke-width="1.4"/>
<text x="306" y="565.9" font-size="7.4"><tspan font-style="italic">h</tspan>-BN/PIB 5%</text>
<line x1="287.2" y1="573.2" x2="303.4" y2="573.2" stroke="#10cc10" stroke-width="1.4"/>
<text x="306" y="575.8" font-size="7.4"><tspan font-style="italic">h</tspan>-BN/PIB 10%</text>
<line x1="287.2" y1="582.6" x2="303.4" y2="582.6" stroke="#ff22ff" stroke-width="2.0"/>
<text x="306" y="585.2" font-size="7.4"><tspan font-style="italic">h</tspan>-BN/PIB 20%</text>
<line x1="287.2" y1="592.5" x2="303.4" y2="592.5" stroke="#000" stroke-width="1.4"/>
<text x="306" y="595.1" font-size="7.4"><tspan font-style="italic">h</tspan>-BN</text>
<text x="369.6" y="710.2" font-size="11.8" text-anchor="middle">Wavenumber (cm<tspan font-size="7" dy="-4.5">-1</tspan><tspan dy="4.5">)</tspan></text>
<text transform="translate(271,610.4) rotate(-90)" x="0" y="0" font-size="12.7" text-anchor="middle">Intensity (a.u.)</text>
<text x="248.3" y="549.8" font-size="19.5" fill="#000">h)</text>
</svg></body></html>
